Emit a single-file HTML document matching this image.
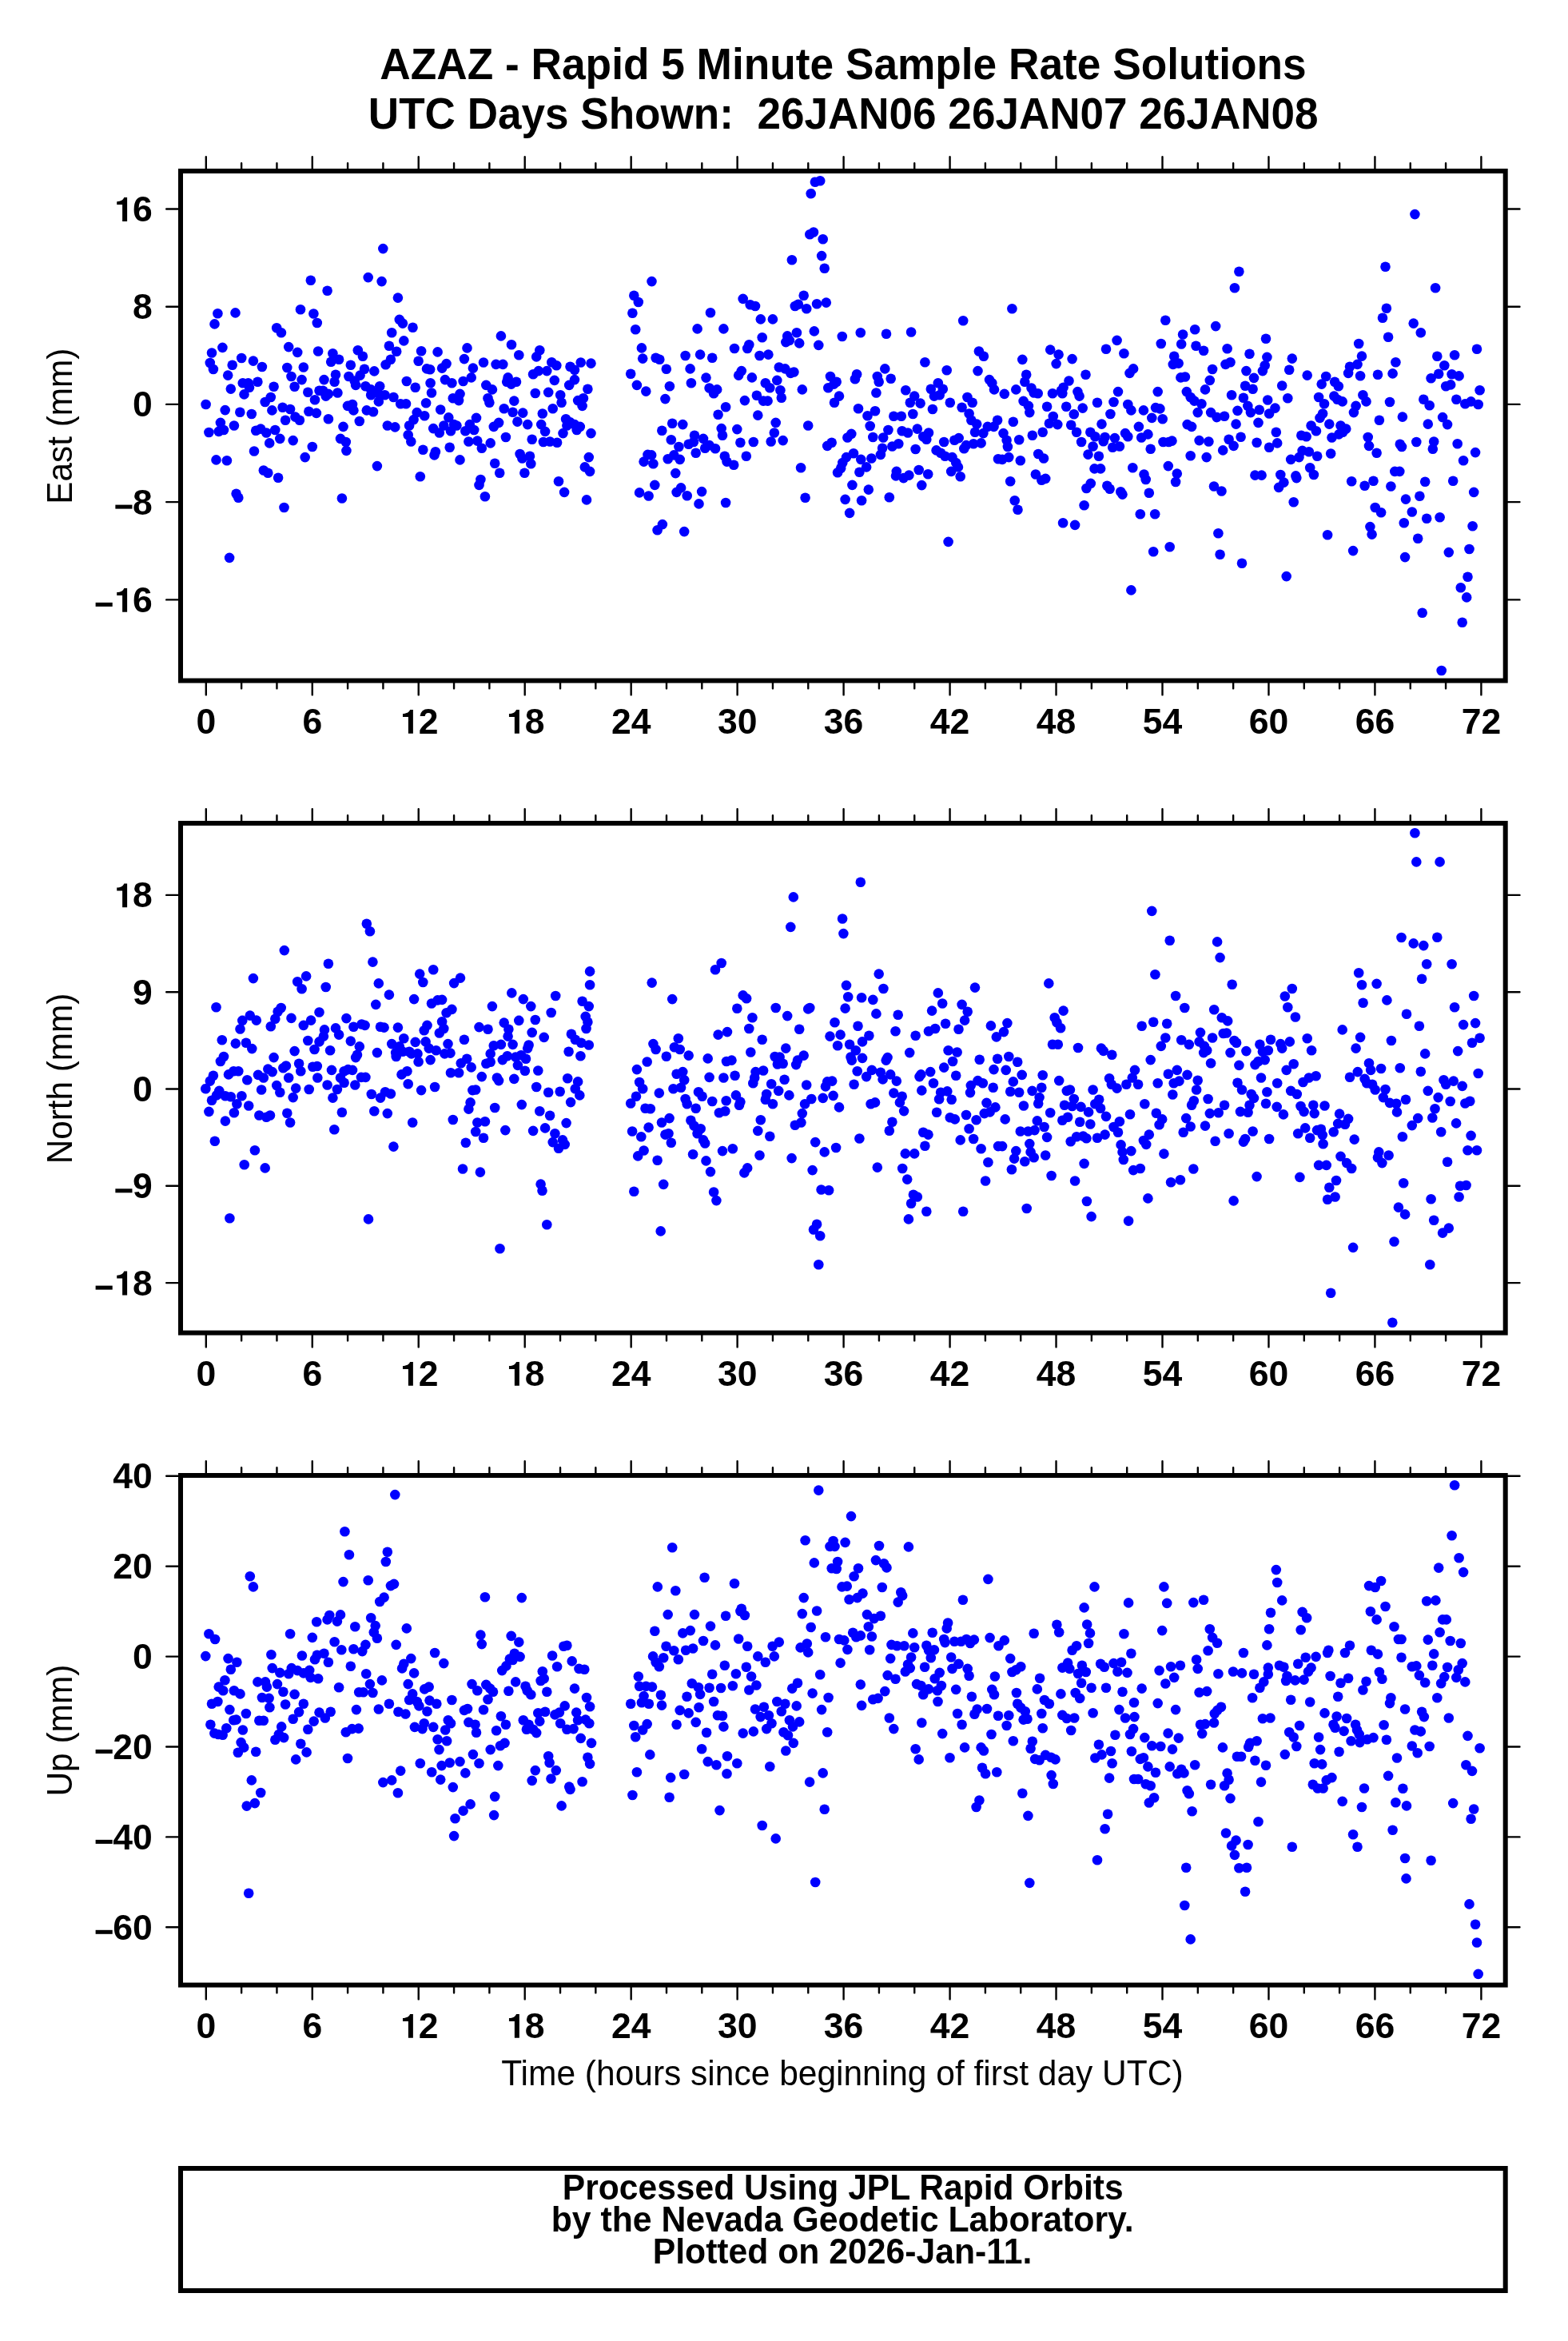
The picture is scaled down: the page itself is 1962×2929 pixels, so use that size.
<!DOCTYPE html><html><head><meta charset="utf-8"><title>AZAZ Rapid 5 Minute Solutions</title><style>html,body{margin:0;padding:0;background:#fff;width:1962px;height:2929px;overflow:hidden}svg{display:block;will-change:transform}text{font-family:"Liberation Sans",sans-serif}</style></head><body>
<svg width="1962" height="2929" viewBox="0 0 1962 2929">
<rect width="1962" height="2929" fill="#fff"/>
<text transform="translate(1055.00 98.80) scale(0.9456 1)" font-size="56.3" font-weight="bold" text-anchor="middle" xml:space="preserve">AZAZ - Rapid 5 Minute Sample Rate Solutions</text>
<text transform="translate(1055.20 160.80) scale(0.9429 1)" font-size="56.3" font-weight="bold" text-anchor="middle" xml:space="preserve">UTC Days Shown:  26JAN06 26JAN07 26JAN08</text>
<path d="M257.80 212.00V196.20M257.80 853.60V869.40M302.12 212.00V204.20M302.12 853.60V861.40M346.44 212.00V204.20M346.44 853.60V861.40M390.77 212.00V196.20M390.77 853.60V869.40M435.09 212.00V204.20M435.09 853.60V861.40M479.41 212.00V204.20M479.41 853.60V861.40M523.73 212.00V196.20M523.73 853.60V869.40M568.06 212.00V204.20M568.06 853.60V861.40M612.38 212.00V204.20M612.38 853.60V861.40M656.70 212.00V196.20M656.70 853.60V869.40M701.02 212.00V204.20M701.02 853.60V861.40M745.34 212.00V204.20M745.34 853.60V861.40M789.67 212.00V196.20M789.67 853.60V869.40M833.99 212.00V204.20M833.99 853.60V861.40M878.31 212.00V204.20M878.31 853.60V861.40M922.63 212.00V196.20M922.63 853.60V869.40M966.96 212.00V204.20M966.96 853.60V861.40M1011.28 212.00V204.20M1011.28 853.60V861.40M1055.60 212.00V196.20M1055.60 853.60V869.40M1099.92 212.00V204.20M1099.92 853.60V861.40M1144.24 212.00V204.20M1144.24 853.60V861.40M1188.57 212.00V196.20M1188.57 853.60V869.40M1232.89 212.00V204.20M1232.89 853.60V861.40M1277.21 212.00V204.20M1277.21 853.60V861.40M1321.53 212.00V196.20M1321.53 853.60V869.40M1365.86 212.00V204.20M1365.86 853.60V861.40M1410.18 212.00V204.20M1410.18 853.60V861.40M1454.50 212.00V196.20M1454.50 853.60V869.40M1498.82 212.00V204.20M1498.82 853.60V861.40M1543.14 212.00V204.20M1543.14 853.60V861.40M1587.47 212.00V196.20M1587.47 853.60V869.40M1631.79 212.00V204.20M1631.79 853.60V861.40M1676.11 212.00V204.20M1676.11 853.60V861.40M1720.43 212.00V196.20M1720.43 853.60V869.40M1764.76 212.00V204.20M1764.76 853.60V861.40M1809.08 212.00V204.20M1809.08 853.60V861.40M1853.40 212.00V196.20M1853.40 853.60V869.40M224.00 261.50H208.20M1885.70 261.50H1901.50M224.00 383.70H208.20M1885.70 383.70H1901.50M224.00 505.90H208.20M1885.70 505.90H1901.50M224.00 628.10H208.20M1885.70 628.10H1901.50M224.00 750.40H208.20M1885.70 750.40H1901.50" stroke="#000" stroke-width="2.4" fill="none" stroke-linecap="round"/>
<g font-size="44.5" font-weight="bold" fill="#000"><text x="245.43" y="917.80">0</text><text x="378.39" y="917.80">6</text><path transform="translate(498.98 917.80)" d="M11.9 0V-20.9H5.0V-24.7C9.8 -24.8 13.0 -26.8 14.1 -29.9H17.9V0Z"/><text x="523.73" y="917.80">2</text><path transform="translate(631.95 917.80)" d="M11.9 0V-20.9H5.0V-24.7C9.8 -24.8 13.0 -26.8 14.1 -29.9H17.9V0Z"/><text x="656.70" y="917.80">8</text><text x="764.92" y="917.80">2</text><text x="789.67" y="917.80">4</text><text x="897.88" y="917.80">3</text><text x="922.63" y="917.80">0</text><text x="1030.85" y="917.80">3</text><text x="1055.60" y="917.80">6</text><text x="1163.82" y="917.80">4</text><text x="1188.57" y="917.80">2</text><text x="1296.78" y="917.80">4</text><text x="1321.53" y="917.80">8</text><text x="1429.75" y="917.80">5</text><text x="1454.50" y="917.80">4</text><text x="1562.72" y="917.80">6</text><text x="1587.47" y="917.80">0</text><text x="1695.68" y="917.80">6</text><text x="1720.43" y="917.80">6</text><text x="1828.65" y="917.80">7</text><text x="1853.40" y="917.80">2</text><path transform="translate(141.21 276.90)" d="M11.9 0V-20.9H5.0V-24.7C9.8 -24.8 13.0 -26.8 14.1 -29.9H17.9V0Z"/><text x="165.96" y="276.90">6</text><text x="165.96" y="399.10">8</text><text x="165.96" y="521.30">0</text><text x="165.96" y="643.50">8</text><rect x="144.36" y="631.60" width="21.1" height="5.0"/><path transform="translate(141.21 765.80)" d="M11.9 0V-20.9H5.0V-24.7C9.8 -24.8 13.0 -26.8 14.1 -29.9H17.9V0Z"/><text x="165.96" y="765.80">6</text><rect x="119.61" y="753.90" width="21.1" height="5.0"/></g>
<text transform="translate(90.1 533.20) rotate(-90) scale(0.9435 1)" font-size="44.8" text-anchor="middle">East (mm)</text>
<g fill="#0000ff"><circle cx="388.8" cy="350.7" r="6.3"/><circle cx="376.0" cy="387.3" r="6.3"/><circle cx="392.4" cy="392.5" r="6.3"/><circle cx="396.8" cy="404.0" r="6.3"/><circle cx="272.4" cy="392.2" r="6.3"/><circle cx="294.5" cy="391.4" r="6.3"/><circle cx="268.5" cy="405.4" r="6.3"/><circle cx="346.2" cy="410.3" r="6.3"/><circle cx="351.9" cy="416.3" r="6.3"/><circle cx="278.4" cy="434.9" r="6.3"/><circle cx="361.2" cy="434.1" r="6.3"/><circle cx="372.2" cy="440.9" r="6.3"/><circle cx="265.0" cy="441.5" r="6.3"/><circle cx="398.1" cy="439.5" r="6.3"/><circle cx="262.8" cy="454.0" r="6.3"/><circle cx="266.9" cy="462.0" r="6.3"/><circle cx="302.2" cy="448.0" r="6.3"/><circle cx="316.9" cy="451.6" r="6.3"/><circle cx="327.9" cy="459.0" r="6.3"/><circle cx="290.7" cy="456.8" r="6.3"/><circle cx="359.3" cy="460.0" r="6.3"/><circle cx="379.8" cy="459.5" r="6.3"/><circle cx="285.2" cy="469.6" r="6.3"/><circle cx="364.5" cy="471.0" r="6.3"/><circle cx="377.6" cy="475.1" r="6.3"/><circle cx="303.8" cy="479.2" r="6.3"/><circle cx="310.6" cy="479.2" r="6.3"/><circle cx="322.4" cy="477.8" r="6.3"/><circle cx="312.0" cy="484.7" r="6.3"/><circle cx="288.8" cy="486.6" r="6.3"/><circle cx="305.5" cy="493.4" r="6.3"/><circle cx="342.6" cy="483.8" r="6.3"/><circle cx="368.6" cy="483.8" r="6.3"/><circle cx="385.3" cy="490.7" r="6.3"/><circle cx="399.5" cy="488.8" r="6.3"/><circle cx="338.8" cy="497.0" r="6.3"/><circle cx="331.7" cy="503.0" r="6.3"/><circle cx="394.0" cy="500.2" r="6.3"/><circle cx="257.6" cy="506.0" r="6.3"/><circle cx="281.7" cy="513.1" r="6.3"/><circle cx="300.3" cy="515.8" r="6.3"/><circle cx="314.8" cy="518.0" r="6.3"/><circle cx="340.4" cy="513.4" r="6.3"/><circle cx="353.6" cy="509.8" r="6.3"/><circle cx="363.1" cy="512.0" r="6.3"/><circle cx="386.4" cy="514.7" r="6.3"/><circle cx="395.9" cy="516.9" r="6.3"/><circle cx="369.4" cy="521.6" r="6.3"/><circle cx="374.9" cy="525.7" r="6.3"/><circle cx="357.1" cy="525.7" r="6.3"/><circle cx="275.9" cy="528.9" r="6.3"/><circle cx="292.9" cy="532.5" r="6.3"/><circle cx="280.0" cy="538.0" r="6.3"/><circle cx="273.7" cy="539.9" r="6.3"/><circle cx="261.4" cy="541.0" r="6.3"/><circle cx="320.2" cy="538.8" r="6.3"/><circle cx="326.2" cy="536.6" r="6.3"/><circle cx="333.3" cy="541.5" r="6.3"/><circle cx="344.3" cy="538.0" r="6.3"/><circle cx="350.3" cy="548.9" r="6.3"/><circle cx="366.7" cy="551.1" r="6.3"/><circle cx="337.2" cy="554.4" r="6.3"/><circle cx="390.8" cy="559.0" r="6.3"/><circle cx="318.0" cy="564.5" r="6.3"/><circle cx="381.7" cy="572.1" r="6.3"/><circle cx="270.5" cy="575.4" r="6.3"/><circle cx="283.9" cy="576.2" r="6.3"/><circle cx="329.8" cy="588.5" r="6.3"/><circle cx="335.3" cy="591.8" r="6.3"/><circle cx="348.1" cy="597.8" r="6.3"/><circle cx="295.6" cy="617.8" r="6.3"/><circle cx="298.3" cy="622.7" r="6.3"/><circle cx="355.5" cy="635.0" r="6.3"/><circle cx="287.1" cy="697.9" r="6.3"/><circle cx="479.3" cy="311.1" r="6.3"/><circle cx="460.7" cy="347.1" r="6.3"/><circle cx="477.6" cy="352.1" r="6.3"/><circle cx="409.6" cy="363.8" r="6.3"/><circle cx="497.9" cy="372.6" r="6.3"/><circle cx="499.8" cy="399.9" r="6.3"/><circle cx="503.9" cy="404.6" r="6.3"/><circle cx="516.5" cy="409.7" r="6.3"/><circle cx="490.2" cy="416.3" r="6.3"/><circle cx="505.3" cy="426.4" r="6.3"/><circle cx="486.9" cy="432.7" r="6.3"/><circle cx="496.2" cy="439.8" r="6.3"/><circle cx="447.8" cy="438.2" r="6.3"/><circle cx="453.9" cy="445.8" r="6.3"/><circle cx="527.1" cy="439.3" r="6.3"/><circle cx="547.6" cy="440.4" r="6.3"/><circle cx="416.4" cy="442.3" r="6.3"/><circle cx="424.1" cy="449.7" r="6.3"/><circle cx="414.2" cy="452.7" r="6.3"/><circle cx="488.9" cy="449.7" r="6.3"/><circle cx="482.6" cy="456.2" r="6.3"/><circle cx="523.6" cy="451.8" r="6.3"/><circle cx="438.8" cy="456.8" r="6.3"/><circle cx="456.0" cy="461.7" r="6.3"/><circle cx="450.6" cy="469.6" r="6.3"/><circle cx="468.3" cy="464.4" r="6.3"/><circle cx="534.0" cy="461.4" r="6.3"/><circle cx="538.1" cy="462.2" r="6.3"/><circle cx="558.6" cy="455.1" r="6.3"/><circle cx="553.1" cy="460.6" r="6.3"/><circle cx="405.5" cy="475.1" r="6.3"/><circle cx="420.0" cy="468.8" r="6.3"/><circle cx="418.6" cy="477.8" r="6.3"/><circle cx="436.4" cy="471.0" r="6.3"/><circle cx="443.7" cy="476.5" r="6.3"/><circle cx="445.1" cy="481.9" r="6.3"/><circle cx="508.8" cy="477.0" r="6.3"/><circle cx="519.7" cy="484.7" r="6.3"/><circle cx="538.6" cy="479.2" r="6.3"/><circle cx="556.9" cy="475.1" r="6.3"/><circle cx="565.4" cy="479.2" r="6.3"/><circle cx="404.1" cy="488.8" r="6.3"/><circle cx="410.9" cy="492.9" r="6.3"/><circle cx="407.7" cy="495.6" r="6.3"/><circle cx="422.4" cy="491.5" r="6.3"/><circle cx="457.4" cy="483.3" r="6.3"/><circle cx="464.2" cy="487.4" r="6.3"/><circle cx="464.2" cy="494.2" r="6.3"/><circle cx="475.2" cy="483.3" r="6.3"/><circle cx="472.4" cy="491.5" r="6.3"/><circle cx="481.5" cy="494.2" r="6.3"/><circle cx="492.4" cy="497.0" r="6.3"/><circle cx="473.8" cy="502.4" r="6.3"/><circle cx="501.2" cy="505.2" r="6.3"/><circle cx="508.0" cy="505.2" r="6.3"/><circle cx="540.0" cy="491.5" r="6.3"/><circle cx="566.8" cy="498.3" r="6.3"/><circle cx="533.1" cy="504.3" r="6.3"/><circle cx="435.0" cy="507.9" r="6.3"/><circle cx="441.0" cy="506.0" r="6.3"/><circle cx="442.4" cy="513.4" r="6.3"/><circle cx="458.8" cy="513.4" r="6.3"/><circle cx="467.0" cy="515.3" r="6.3"/><circle cx="551.2" cy="512.5" r="6.3"/><circle cx="521.7" cy="516.1" r="6.3"/><circle cx="531.2" cy="520.2" r="6.3"/><circle cx="517.6" cy="525.1" r="6.3"/><circle cx="561.3" cy="522.4" r="6.3"/><circle cx="410.9" cy="524.3" r="6.3"/><circle cx="449.8" cy="527.0" r="6.3"/><circle cx="429.5" cy="533.9" r="6.3"/><circle cx="484.8" cy="532.5" r="6.3"/><circle cx="494.3" cy="534.4" r="6.3"/><circle cx="512.1" cy="532.5" r="6.3"/><circle cx="542.2" cy="536.1" r="6.3"/><circle cx="549.8" cy="541.5" r="6.3"/><circle cx="555.3" cy="532.5" r="6.3"/><circle cx="564.0" cy="539.3" r="6.3"/><circle cx="568.1" cy="531.1" r="6.3"/><circle cx="426.0" cy="548.9" r="6.3"/><circle cx="432.8" cy="553.0" r="6.3"/><circle cx="510.7" cy="544.3" r="6.3"/><circle cx="514.3" cy="552.5" r="6.3"/><circle cx="433.4" cy="563.9" r="6.3"/><circle cx="529.3" cy="562.8" r="6.3"/><circle cx="544.9" cy="565.3" r="6.3"/><circle cx="543.5" cy="569.4" r="6.3"/><circle cx="562.7" cy="559.8" r="6.3"/><circle cx="471.9" cy="583.1" r="6.3"/><circle cx="525.8" cy="596.2" r="6.3"/><circle cx="427.9" cy="623.5" r="6.3"/><circle cx="626.9" cy="420.4" r="6.3"/><circle cx="640.0" cy="431.3" r="6.3"/><circle cx="649.3" cy="444.2" r="6.3"/><circle cx="584.5" cy="435.4" r="6.3"/><circle cx="580.9" cy="449.1" r="6.3"/><circle cx="591.9" cy="460.6" r="6.3"/><circle cx="605.0" cy="453.5" r="6.3"/><circle cx="620.6" cy="455.9" r="6.3"/><circle cx="629.3" cy="455.9" r="6.3"/><circle cx="675.3" cy="438.2" r="6.3"/><circle cx="671.2" cy="446.4" r="6.3"/><circle cx="690.3" cy="453.2" r="6.3"/><circle cx="696.3" cy="457.3" r="6.3"/><circle cx="713.5" cy="458.7" r="6.3"/><circle cx="719.0" cy="462.8" r="6.3"/><circle cx="726.7" cy="453.5" r="6.3"/><circle cx="739.5" cy="454.6" r="6.3"/><circle cx="579.6" cy="477.0" r="6.3"/><circle cx="589.7" cy="472.4" r="6.3"/><circle cx="608.3" cy="481.9" r="6.3"/><circle cx="615.9" cy="487.4" r="6.3"/><circle cx="635.6" cy="472.4" r="6.3"/><circle cx="634.2" cy="477.8" r="6.3"/><circle cx="639.7" cy="480.6" r="6.3"/><circle cx="646.0" cy="477.8" r="6.3"/><circle cx="667.1" cy="468.3" r="6.3"/><circle cx="673.9" cy="464.1" r="6.3"/><circle cx="684.3" cy="464.1" r="6.3"/><circle cx="693.8" cy="475.9" r="6.3"/><circle cx="712.2" cy="481.9" r="6.3"/><circle cx="719.0" cy="475.1" r="6.3"/><circle cx="735.4" cy="486.8" r="6.3"/><circle cx="575.5" cy="492.9" r="6.3"/><circle cx="574.1" cy="501.1" r="6.3"/><circle cx="610.5" cy="498.3" r="6.3"/><circle cx="612.4" cy="503.8" r="6.3"/><circle cx="643.3" cy="501.6" r="6.3"/><circle cx="669.8" cy="492.0" r="6.3"/><circle cx="686.2" cy="490.9" r="6.3"/><circle cx="701.2" cy="494.2" r="6.3"/><circle cx="702.6" cy="503.8" r="6.3"/><circle cx="723.1" cy="501.1" r="6.3"/><circle cx="729.9" cy="498.3" r="6.3"/><circle cx="728.6" cy="507.9" r="6.3"/><circle cx="630.7" cy="511.2" r="6.3"/><circle cx="641.6" cy="515.8" r="6.3"/><circle cx="654.2" cy="516.6" r="6.3"/><circle cx="678.8" cy="517.5" r="6.3"/><circle cx="691.7" cy="511.2" r="6.3"/><circle cx="596.0" cy="522.9" r="6.3"/><circle cx="571.4" cy="532.5" r="6.3"/><circle cx="587.8" cy="531.1" r="6.3"/><circle cx="582.3" cy="539.3" r="6.3"/><circle cx="593.2" cy="538.0" r="6.3"/><circle cx="617.8" cy="533.9" r="6.3"/><circle cx="624.1" cy="528.9" r="6.3"/><circle cx="647.4" cy="527.6" r="6.3"/><circle cx="660.2" cy="531.1" r="6.3"/><circle cx="677.2" cy="531.1" r="6.3"/><circle cx="682.1" cy="539.9" r="6.3"/><circle cx="708.1" cy="524.3" r="6.3"/><circle cx="713.5" cy="528.4" r="6.3"/><circle cx="709.4" cy="532.5" r="6.3"/><circle cx="719.0" cy="531.1" r="6.3"/><circle cx="721.7" cy="538.0" r="6.3"/><circle cx="725.8" cy="533.9" r="6.3"/><circle cx="704.5" cy="542.1" r="6.3"/><circle cx="739.5" cy="542.1" r="6.3"/><circle cx="632.9" cy="547.0" r="6.3"/><circle cx="586.4" cy="552.5" r="6.3"/><circle cx="597.3" cy="551.6" r="6.3"/><circle cx="602.8" cy="560.7" r="6.3"/><circle cx="613.7" cy="554.4" r="6.3"/><circle cx="665.7" cy="549.7" r="6.3"/><circle cx="679.9" cy="553.0" r="6.3"/><circle cx="688.1" cy="552.5" r="6.3"/><circle cx="697.1" cy="553.8" r="6.3"/><circle cx="575.5" cy="575.4" r="6.3"/><circle cx="650.6" cy="568.0" r="6.3"/><circle cx="653.4" cy="573.5" r="6.3"/><circle cx="663.0" cy="570.8" r="6.3"/><circle cx="664.3" cy="580.3" r="6.3"/><circle cx="619.2" cy="579.8" r="6.3"/><circle cx="625.2" cy="591.8" r="6.3"/><circle cx="656.4" cy="591.8" r="6.3"/><circle cx="736.8" cy="572.1" r="6.3"/><circle cx="731.8" cy="584.4" r="6.3"/><circle cx="738.1" cy="589.9" r="6.3"/><circle cx="601.4" cy="600.0" r="6.3"/><circle cx="599.5" cy="606.9" r="6.3"/><circle cx="606.9" cy="621.3" r="6.3"/><circle cx="699.0" cy="602.2" r="6.3"/><circle cx="706.1" cy="615.9" r="6.3"/><circle cx="734.0" cy="625.4" r="6.3"/><circle cx="815.5" cy="352.1" r="6.3"/><circle cx="793.3" cy="369.8" r="6.3"/><circle cx="798.8" cy="378.0" r="6.3"/><circle cx="791.4" cy="391.7" r="6.3"/><circle cx="795.2" cy="412.2" r="6.3"/><circle cx="889.0" cy="391.2" r="6.3"/><circle cx="872.6" cy="411.4" r="6.3"/><circle cx="905.4" cy="411.4" r="6.3"/><circle cx="802.9" cy="435.4" r="6.3"/><circle cx="804.2" cy="448.6" r="6.3"/><circle cx="820.6" cy="447.7" r="6.3"/><circle cx="825.3" cy="449.7" r="6.3"/><circle cx="833.8" cy="461.7" r="6.3"/><circle cx="857.6" cy="445.0" r="6.3"/><circle cx="876.1" cy="443.6" r="6.3"/><circle cx="891.2" cy="447.7" r="6.3"/><circle cx="863.6" cy="461.4" r="6.3"/><circle cx="789.2" cy="467.7" r="6.3"/><circle cx="796.9" cy="481.9" r="6.3"/><circle cx="808.3" cy="489.6" r="6.3"/><circle cx="837.9" cy="483.3" r="6.3"/><circle cx="832.4" cy="499.1" r="6.3"/><circle cx="864.9" cy="479.2" r="6.3"/><circle cx="883.5" cy="472.6" r="6.3"/><circle cx="887.6" cy="485.5" r="6.3"/><circle cx="897.2" cy="487.4" r="6.3"/><circle cx="893.1" cy="492.3" r="6.3"/><circle cx="908.1" cy="509.3" r="6.3"/><circle cx="898.6" cy="518.8" r="6.3"/><circle cx="841.2" cy="529.8" r="6.3"/><circle cx="854.3" cy="531.1" r="6.3"/><circle cx="828.3" cy="538.8" r="6.3"/><circle cx="902.7" cy="536.1" r="6.3"/><circle cx="904.0" cy="544.8" r="6.3"/><circle cx="839.8" cy="550.3" r="6.3"/><circle cx="849.4" cy="559.0" r="6.3"/><circle cx="869.0" cy="544.8" r="6.3"/><circle cx="861.7" cy="555.7" r="6.3"/><circle cx="867.9" cy="553.0" r="6.3"/><circle cx="880.0" cy="548.9" r="6.3"/><circle cx="882.2" cy="560.7" r="6.3"/><circle cx="887.6" cy="557.1" r="6.3"/><circle cx="895.0" cy="561.2" r="6.3"/><circle cx="870.7" cy="566.7" r="6.3"/><circle cx="810.5" cy="568.9" r="6.3"/><circle cx="815.2" cy="569.4" r="6.3"/><circle cx="805.6" cy="577.6" r="6.3"/><circle cx="817.4" cy="580.3" r="6.3"/><circle cx="835.7" cy="574.3" r="6.3"/><circle cx="843.3" cy="569.4" r="6.3"/><circle cx="850.7" cy="574.9" r="6.3"/><circle cx="906.8" cy="570.8" r="6.3"/><circle cx="909.5" cy="577.6" r="6.3"/><circle cx="845.3" cy="592.1" r="6.3"/><circle cx="819.3" cy="606.9" r="6.3"/><circle cx="800.1" cy="616.4" r="6.3"/><circle cx="811.6" cy="620.5" r="6.3"/><circle cx="852.1" cy="610.4" r="6.3"/><circle cx="846.6" cy="615.9" r="6.3"/><circle cx="859.7" cy="620.3" r="6.3"/><circle cx="878.1" cy="615.1" r="6.3"/><circle cx="874.5" cy="630.4" r="6.3"/><circle cx="908.1" cy="629.0" r="6.3"/><circle cx="828.9" cy="656.1" r="6.3"/><circle cx="822.6" cy="663.2" r="6.3"/><circle cx="856.2" cy="665.1" r="6.3"/><circle cx="1026.2" cy="226.3" r="6.3"/><circle cx="1019.9" cy="227.7" r="6.3"/><circle cx="1014.7" cy="242.2" r="6.3"/><circle cx="1013.3" cy="293.3" r="6.3"/><circle cx="1018.0" cy="290.5" r="6.3"/><circle cx="1029.7" cy="299.3" r="6.3"/><circle cx="1028.1" cy="320.1" r="6.3"/><circle cx="1031.7" cy="335.7" r="6.3"/><circle cx="990.9" cy="325.3" r="6.3"/><circle cx="929.7" cy="373.9" r="6.3"/><circle cx="938.7" cy="381.3" r="6.3"/><circle cx="945.0" cy="383.0" r="6.3"/><circle cx="951.8" cy="399.4" r="6.3"/><circle cx="966.9" cy="399.4" r="6.3"/><circle cx="1005.7" cy="369.8" r="6.3"/><circle cx="994.8" cy="383.0" r="6.3"/><circle cx="998.9" cy="380.8" r="6.3"/><circle cx="1009.2" cy="386.2" r="6.3"/><circle cx="1022.1" cy="380.2" r="6.3"/><circle cx="1033.8" cy="378.6" r="6.3"/><circle cx="953.7" cy="422.3" r="6.3"/><circle cx="985.2" cy="420.4" r="6.3"/><circle cx="983.3" cy="428.1" r="6.3"/><circle cx="987.9" cy="425.9" r="6.3"/><circle cx="996.9" cy="416.3" r="6.3"/><circle cx="1000.2" cy="429.4" r="6.3"/><circle cx="1018.8" cy="414.4" r="6.3"/><circle cx="1024.3" cy="431.9" r="6.3"/><circle cx="1053.8" cy="421.0" r="6.3"/><circle cx="1076.8" cy="416.3" r="6.3"/><circle cx="919.0" cy="436.0" r="6.3"/><circle cx="937.3" cy="431.3" r="6.3"/><circle cx="935.2" cy="436.0" r="6.3"/><circle cx="950.5" cy="445.0" r="6.3"/><circle cx="961.4" cy="443.6" r="6.3"/><circle cx="974.8" cy="459.5" r="6.3"/><circle cx="982.4" cy="461.4" r="6.3"/><circle cx="989.3" cy="466.9" r="6.3"/><circle cx="993.4" cy="465.5" r="6.3"/><circle cx="927.8" cy="464.1" r="6.3"/><circle cx="924.2" cy="469.6" r="6.3"/><circle cx="940.9" cy="472.4" r="6.3"/><circle cx="957.8" cy="479.2" r="6.3"/><circle cx="963.3" cy="485.2" r="6.3"/><circle cx="972.3" cy="475.9" r="6.3"/><circle cx="976.4" cy="488.2" r="6.3"/><circle cx="977.8" cy="497.8" r="6.3"/><circle cx="1003.8" cy="487.4" r="6.3"/><circle cx="1039.0" cy="471.0" r="6.3"/><circle cx="1046.7" cy="477.8" r="6.3"/><circle cx="1036.3" cy="485.2" r="6.3"/><circle cx="1043.4" cy="480.6" r="6.3"/><circle cx="1072.1" cy="468.3" r="6.3"/><circle cx="1069.9" cy="474.3" r="6.3"/><circle cx="1050.0" cy="495.6" r="6.3"/><circle cx="1044.0" cy="503.8" r="6.3"/><circle cx="1074.0" cy="511.2" r="6.3"/><circle cx="931.9" cy="501.1" r="6.3"/><circle cx="946.9" cy="494.8" r="6.3"/><circle cx="955.1" cy="501.6" r="6.3"/><circle cx="960.6" cy="501.6" r="6.3"/><circle cx="948.3" cy="519.6" r="6.3"/><circle cx="970.7" cy="528.9" r="6.3"/><circle cx="1011.2" cy="532.5" r="6.3"/><circle cx="922.3" cy="537.1" r="6.3"/><circle cx="968.8" cy="541.5" r="6.3"/><circle cx="926.4" cy="553.8" r="6.3"/><circle cx="942.8" cy="553.0" r="6.3"/><circle cx="964.7" cy="552.5" r="6.3"/><circle cx="979.7" cy="551.1" r="6.3"/><circle cx="1065.3" cy="542.9" r="6.3"/><circle cx="1060.4" cy="547.5" r="6.3"/><circle cx="1040.7" cy="553.8" r="6.3"/><circle cx="1035.2" cy="557.9" r="6.3"/><circle cx="918.2" cy="581.7" r="6.3"/><circle cx="933.8" cy="570.8" r="6.3"/><circle cx="1002.1" cy="585.3" r="6.3"/><circle cx="1068.0" cy="567.2" r="6.3"/><circle cx="1059.0" cy="572.1" r="6.3"/><circle cx="1054.3" cy="579.0" r="6.3"/><circle cx="1052.2" cy="585.8" r="6.3"/><circle cx="1048.1" cy="591.3" r="6.3"/><circle cx="1077.3" cy="574.9" r="6.3"/><circle cx="1075.4" cy="590.7" r="6.3"/><circle cx="1066.4" cy="606.9" r="6.3"/><circle cx="1007.6" cy="622.7" r="6.3"/><circle cx="1057.6" cy="624.9" r="6.3"/><circle cx="1078.1" cy="626.3" r="6.3"/><circle cx="1063.1" cy="641.9" r="6.3"/><circle cx="1205.2" cy="401.3" r="6.3"/><circle cx="1109.0" cy="417.7" r="6.3"/><circle cx="1140.1" cy="415.5" r="6.3"/><circle cx="1157.4" cy="453.2" r="6.3"/><circle cx="1184.7" cy="463.3" r="6.3"/><circle cx="1224.9" cy="439.5" r="6.3"/><circle cx="1230.9" cy="445.8" r="6.3"/><circle cx="1223.5" cy="464.1" r="6.3"/><circle cx="1107.3" cy="461.4" r="6.3"/><circle cx="1097.8" cy="471.0" r="6.3"/><circle cx="1099.7" cy="477.8" r="6.3"/><circle cx="1114.7" cy="473.7" r="6.3"/><circle cx="1238.0" cy="475.1" r="6.3"/><circle cx="1241.3" cy="479.2" r="6.3"/><circle cx="1244.0" cy="487.4" r="6.3"/><circle cx="1096.4" cy="491.5" r="6.3"/><circle cx="1133.3" cy="488.2" r="6.3"/><circle cx="1173.8" cy="479.2" r="6.3"/><circle cx="1164.8" cy="486.8" r="6.3"/><circle cx="1179.8" cy="486.8" r="6.3"/><circle cx="1168.9" cy="495.6" r="6.3"/><circle cx="1175.7" cy="494.2" r="6.3"/><circle cx="1144.2" cy="495.6" r="6.3"/><circle cx="1138.8" cy="503.8" r="6.3"/><circle cx="1151.6" cy="504.6" r="6.3"/><circle cx="1188.8" cy="503.8" r="6.3"/><circle cx="1203.6" cy="509.8" r="6.3"/><circle cx="1210.4" cy="497.0" r="6.3"/><circle cx="1216.7" cy="503.8" r="6.3"/><circle cx="1166.9" cy="512.0" r="6.3"/><circle cx="1095.0" cy="514.2" r="6.3"/><circle cx="1085.5" cy="520.2" r="6.3"/><circle cx="1118.3" cy="520.7" r="6.3"/><circle cx="1127.8" cy="520.7" r="6.3"/><circle cx="1142.3" cy="518.0" r="6.3"/><circle cx="1212.6" cy="517.5" r="6.3"/><circle cx="1215.3" cy="525.7" r="6.3"/><circle cx="1222.2" cy="530.6" r="6.3"/><circle cx="1248.1" cy="525.7" r="6.3"/><circle cx="1243.5" cy="533.9" r="6.3"/><circle cx="1235.8" cy="533.9" r="6.3"/><circle cx="1230.4" cy="542.1" r="6.3"/><circle cx="1088.7" cy="533.0" r="6.3"/><circle cx="1111.4" cy="538.0" r="6.3"/><circle cx="1128.7" cy="539.3" r="6.3"/><circle cx="1136.0" cy="541.5" r="6.3"/><circle cx="1147.8" cy="536.6" r="6.3"/><circle cx="1162.0" cy="541.5" r="6.3"/><circle cx="1155.2" cy="546.2" r="6.3"/><circle cx="1159.3" cy="549.7" r="6.3"/><circle cx="1220.0" cy="540.7" r="6.3"/><circle cx="1092.3" cy="547.0" r="6.3"/><circle cx="1105.2" cy="547.5" r="6.3"/><circle cx="1181.2" cy="553.0" r="6.3"/><circle cx="1194.3" cy="550.8" r="6.3"/><circle cx="1199.7" cy="548.1" r="6.3"/><circle cx="1209.0" cy="557.1" r="6.3"/><circle cx="1206.3" cy="561.2" r="6.3"/><circle cx="1218.1" cy="555.2" r="6.3"/><circle cx="1227.6" cy="554.4" r="6.3"/><circle cx="1104.1" cy="560.7" r="6.3"/><circle cx="1101.9" cy="568.9" r="6.3"/><circle cx="1116.4" cy="558.5" r="6.3"/><circle cx="1124.3" cy="555.2" r="6.3"/><circle cx="1145.6" cy="562.0" r="6.3"/><circle cx="1171.6" cy="563.4" r="6.3"/><circle cx="1177.1" cy="566.7" r="6.3"/><circle cx="1182.5" cy="570.8" r="6.3"/><circle cx="1191.5" cy="572.1" r="6.3"/><circle cx="1196.2" cy="579.0" r="6.3"/><circle cx="1198.9" cy="584.4" r="6.3"/><circle cx="1190.2" cy="589.9" r="6.3"/><circle cx="1201.7" cy="596.2" r="6.3"/><circle cx="1090.4" cy="573.5" r="6.3"/><circle cx="1084.1" cy="584.4" r="6.3"/><circle cx="1121.8" cy="589.9" r="6.3"/><circle cx="1121.0" cy="595.4" r="6.3"/><circle cx="1130.6" cy="598.1" r="6.3"/><circle cx="1137.4" cy="594.6" r="6.3"/><circle cx="1149.7" cy="588.0" r="6.3"/><circle cx="1161.2" cy="593.2" r="6.3"/><circle cx="1153.3" cy="607.1" r="6.3"/><circle cx="1086.8" cy="612.6" r="6.3"/><circle cx="1112.8" cy="622.2" r="6.3"/><circle cx="1249.0" cy="574.3" r="6.3"/><circle cx="1186.6" cy="677.9" r="6.3"/><circle cx="1266.4" cy="386.2" r="6.3"/><circle cx="1397.6" cy="425.9" r="6.3"/><circle cx="1384.0" cy="436.8" r="6.3"/><circle cx="1406.4" cy="442.3" r="6.3"/><circle cx="1314.2" cy="437.6" r="6.3"/><circle cx="1324.6" cy="443.6" r="6.3"/><circle cx="1321.6" cy="455.1" r="6.3"/><circle cx="1341.6" cy="449.1" r="6.3"/><circle cx="1279.3" cy="449.9" r="6.3"/><circle cx="1358.5" cy="468.8" r="6.3"/><circle cx="1413.5" cy="466.9" r="6.3"/><circle cx="1418.1" cy="461.4" r="6.3"/><circle cx="1284.2" cy="468.8" r="6.3"/><circle cx="1282.3" cy="477.8" r="6.3"/><circle cx="1290.5" cy="485.5" r="6.3"/><circle cx="1293.7" cy="491.5" r="6.3"/><circle cx="1298.7" cy="492.3" r="6.3"/><circle cx="1271.3" cy="487.4" r="6.3"/><circle cx="1256.8" cy="492.9" r="6.3"/><circle cx="1317.0" cy="492.3" r="6.3"/><circle cx="1327.9" cy="488.8" r="6.3"/><circle cx="1330.6" cy="484.7" r="6.3"/><circle cx="1337.5" cy="476.5" r="6.3"/><circle cx="1329.3" cy="492.3" r="6.3"/><circle cx="1348.4" cy="490.1" r="6.3"/><circle cx="1350.6" cy="495.6" r="6.3"/><circle cx="1399.0" cy="490.1" r="6.3"/><circle cx="1280.6" cy="501.9" r="6.3"/><circle cx="1286.9" cy="507.9" r="6.3"/><circle cx="1288.3" cy="516.1" r="6.3"/><circle cx="1310.1" cy="508.7" r="6.3"/><circle cx="1334.2" cy="508.7" r="6.3"/><circle cx="1354.7" cy="510.6" r="6.3"/><circle cx="1343.8" cy="518.3" r="6.3"/><circle cx="1373.0" cy="503.8" r="6.3"/><circle cx="1393.5" cy="503.0" r="6.3"/><circle cx="1389.4" cy="518.0" r="6.3"/><circle cx="1411.3" cy="506.0" r="6.3"/><circle cx="1415.4" cy="513.4" r="6.3"/><circle cx="1267.8" cy="527.8" r="6.3"/><circle cx="1317.8" cy="521.0" r="6.3"/><circle cx="1312.9" cy="529.8" r="6.3"/><circle cx="1323.3" cy="531.1" r="6.3"/><circle cx="1340.2" cy="531.7" r="6.3"/><circle cx="1347.1" cy="540.7" r="6.3"/><circle cx="1378.5" cy="530.6" r="6.3"/><circle cx="1255.5" cy="542.1" r="6.3"/><circle cx="1259.6" cy="550.8" r="6.3"/><circle cx="1260.9" cy="559.0" r="6.3"/><circle cx="1275.2" cy="550.3" r="6.3"/><circle cx="1291.8" cy="544.8" r="6.3"/><circle cx="1304.7" cy="540.7" r="6.3"/><circle cx="1353.1" cy="553.0" r="6.3"/><circle cx="1364.3" cy="540.7" r="6.3"/><circle cx="1370.3" cy="546.2" r="6.3"/><circle cx="1382.6" cy="547.0" r="6.3"/><circle cx="1380.7" cy="552.2" r="6.3"/><circle cx="1394.9" cy="548.1" r="6.3"/><circle cx="1392.2" cy="559.8" r="6.3"/><circle cx="1400.9" cy="558.5" r="6.3"/><circle cx="1408.0" cy="542.1" r="6.3"/><circle cx="1411.3" cy="546.2" r="6.3"/><circle cx="1367.6" cy="558.5" r="6.3"/><circle cx="1361.5" cy="568.6" r="6.3"/><circle cx="1374.9" cy="570.8" r="6.3"/><circle cx="1262.3" cy="572.1" r="6.3"/><circle cx="1254.1" cy="574.9" r="6.3"/><circle cx="1276.8" cy="576.2" r="6.3"/><circle cx="1299.2" cy="568.0" r="6.3"/><circle cx="1306.0" cy="573.5" r="6.3"/><circle cx="1417.3" cy="585.3" r="6.3"/><circle cx="1369.5" cy="586.4" r="6.3"/><circle cx="1377.1" cy="586.4" r="6.3"/><circle cx="1295.9" cy="593.5" r="6.3"/><circle cx="1303.3" cy="600.8" r="6.3"/><circle cx="1308.2" cy="598.9" r="6.3"/><circle cx="1264.2" cy="602.2" r="6.3"/><circle cx="1364.8" cy="604.9" r="6.3"/><circle cx="1359.4" cy="611.0" r="6.3"/><circle cx="1385.3" cy="607.7" r="6.3"/><circle cx="1388.6" cy="611.8" r="6.3"/><circle cx="1402.3" cy="615.3" r="6.3"/><circle cx="1404.5" cy="618.6" r="6.3"/><circle cx="1269.7" cy="626.3" r="6.3"/><circle cx="1273.5" cy="637.8" r="6.3"/><circle cx="1356.6" cy="632.3" r="6.3"/><circle cx="1330.1" cy="654.2" r="6.3"/><circle cx="1345.1" cy="656.9" r="6.3"/><circle cx="1415.4" cy="738.4" r="6.3"/><circle cx="1550.4" cy="339.8" r="6.3"/><circle cx="1544.9" cy="360.3" r="6.3"/><circle cx="1458.3" cy="400.7" r="6.3"/><circle cx="1521.2" cy="408.1" r="6.3"/><circle cx="1495.2" cy="412.2" r="6.3"/><circle cx="1480.1" cy="418.5" r="6.3"/><circle cx="1478.2" cy="430.5" r="6.3"/><circle cx="1452.8" cy="430.0" r="6.3"/><circle cx="1496.5" cy="432.7" r="6.3"/><circle cx="1506.1" cy="438.7" r="6.3"/><circle cx="1535.6" cy="436.3" r="6.3"/><circle cx="1584.0" cy="423.7" r="6.3"/><circle cx="1563.5" cy="442.8" r="6.3"/><circle cx="1585.4" cy="446.9" r="6.3"/><circle cx="1469.2" cy="445.8" r="6.3"/><circle cx="1467.8" cy="455.9" r="6.3"/><circle cx="1474.7" cy="454.6" r="6.3"/><circle cx="1533.5" cy="455.9" r="6.3"/><circle cx="1539.5" cy="453.2" r="6.3"/><circle cx="1517.1" cy="462.0" r="6.3"/><circle cx="1559.4" cy="464.1" r="6.3"/><circle cx="1582.7" cy="457.3" r="6.3"/><circle cx="1579.9" cy="464.1" r="6.3"/><circle cx="1477.4" cy="472.4" r="6.3"/><circle cx="1482.9" cy="471.5" r="6.3"/><circle cx="1513.8" cy="475.9" r="6.3"/><circle cx="1569.0" cy="472.9" r="6.3"/><circle cx="1508.0" cy="487.4" r="6.3"/><circle cx="1448.7" cy="490.1" r="6.3"/><circle cx="1558.1" cy="482.7" r="6.3"/><circle cx="1567.6" cy="486.8" r="6.3"/><circle cx="1541.1" cy="494.2" r="6.3"/><circle cx="1484.8" cy="490.1" r="6.3"/><circle cx="1489.7" cy="497.0" r="6.3"/><circle cx="1494.4" cy="501.6" r="6.3"/><circle cx="1503.4" cy="505.2" r="6.3"/><circle cx="1498.7" cy="516.1" r="6.3"/><circle cx="1555.9" cy="497.8" r="6.3"/><circle cx="1561.3" cy="507.9" r="6.3"/><circle cx="1564.9" cy="516.1" r="6.3"/><circle cx="1575.8" cy="512.8" r="6.3"/><circle cx="1586.2" cy="500.5" r="6.3"/><circle cx="1588.1" cy="517.5" r="6.3"/><circle cx="1430.9" cy="513.4" r="6.3"/><circle cx="1446.0" cy="510.1" r="6.3"/><circle cx="1451.4" cy="511.4" r="6.3"/><circle cx="1441.3" cy="522.9" r="6.3"/><circle cx="1454.7" cy="524.3" r="6.3"/><circle cx="1515.1" cy="516.1" r="6.3"/><circle cx="1522.5" cy="522.1" r="6.3"/><circle cx="1532.1" cy="520.7" r="6.3"/><circle cx="1548.5" cy="513.9" r="6.3"/><circle cx="1546.6" cy="530.6" r="6.3"/><circle cx="1574.5" cy="528.9" r="6.3"/><circle cx="1485.6" cy="531.1" r="6.3"/><circle cx="1491.1" cy="533.9" r="6.3"/><circle cx="1424.9" cy="533.9" r="6.3"/><circle cx="1428.2" cy="547.5" r="6.3"/><circle cx="1436.4" cy="543.4" r="6.3"/><circle cx="1455.5" cy="553.0" r="6.3"/><circle cx="1462.4" cy="553.0" r="6.3"/><circle cx="1466.5" cy="551.6" r="6.3"/><circle cx="1439.7" cy="561.7" r="6.3"/><circle cx="1500.6" cy="551.1" r="6.3"/><circle cx="1512.4" cy="552.5" r="6.3"/><circle cx="1537.6" cy="549.7" r="6.3"/><circle cx="1543.6" cy="557.9" r="6.3"/><circle cx="1552.6" cy="546.7" r="6.3"/><circle cx="1530.2" cy="563.4" r="6.3"/><circle cx="1572.6" cy="553.8" r="6.3"/><circle cx="1588.1" cy="559.8" r="6.3"/><circle cx="1489.7" cy="570.2" r="6.3"/><circle cx="1509.7" cy="572.1" r="6.3"/><circle cx="1461.8" cy="583.1" r="6.3"/><circle cx="1472.8" cy="592.6" r="6.3"/><circle cx="1471.1" cy="603.0" r="6.3"/><circle cx="1431.5" cy="593.5" r="6.3"/><circle cx="1433.7" cy="600.0" r="6.3"/><circle cx="1570.4" cy="594.6" r="6.3"/><circle cx="1578.6" cy="594.6" r="6.3"/><circle cx="1437.8" cy="616.7" r="6.3"/><circle cx="1519.0" cy="608.5" r="6.3"/><circle cx="1528.5" cy="614.5" r="6.3"/><circle cx="1426.8" cy="643.2" r="6.3"/><circle cx="1445.2" cy="643.2" r="6.3"/><circle cx="1524.4" cy="667.3" r="6.3"/><circle cx="1443.2" cy="690.2" r="6.3"/><circle cx="1463.7" cy="684.2" r="6.3"/><circle cx="1526.6" cy="693.8" r="6.3"/><circle cx="1554.0" cy="704.7" r="6.3"/><circle cx="1733.5" cy="333.7" r="6.3"/><circle cx="1734.9" cy="385.7" r="6.3"/><circle cx="1730.0" cy="397.7" r="6.3"/><circle cx="1737.1" cy="421.8" r="6.3"/><circle cx="1700.2" cy="430.0" r="6.3"/><circle cx="1704.0" cy="445.6" r="6.3"/><circle cx="1698.5" cy="455.9" r="6.3"/><circle cx="1689.0" cy="458.7" r="6.3"/><circle cx="1687.1" cy="466.9" r="6.3"/><circle cx="1702.1" cy="470.2" r="6.3"/><circle cx="1724.0" cy="468.8" r="6.3"/><circle cx="1742.6" cy="467.4" r="6.3"/><circle cx="1746.4" cy="453.2" r="6.3"/><circle cx="1616.8" cy="448.6" r="6.3"/><circle cx="1613.2" cy="462.8" r="6.3"/><circle cx="1635.7" cy="469.6" r="6.3"/><circle cx="1659.2" cy="471.0" r="6.3"/><circle cx="1653.7" cy="480.6" r="6.3"/><circle cx="1670.1" cy="477.8" r="6.3"/><circle cx="1674.8" cy="483.3" r="6.3"/><circle cx="1604.2" cy="482.5" r="6.3"/><circle cx="1611.3" cy="498.3" r="6.3"/><circle cx="1650.1" cy="497.0" r="6.3"/><circle cx="1657.0" cy="505.2" r="6.3"/><circle cx="1669.3" cy="495.6" r="6.3"/><circle cx="1673.4" cy="499.7" r="6.3"/><circle cx="1679.7" cy="502.4" r="6.3"/><circle cx="1705.4" cy="494.2" r="6.3"/><circle cx="1709.5" cy="502.4" r="6.3"/><circle cx="1739.0" cy="503.0" r="6.3"/><circle cx="1696.6" cy="507.9" r="6.3"/><circle cx="1693.9" cy="516.1" r="6.3"/><circle cx="1595.5" cy="510.6" r="6.3"/><circle cx="1655.1" cy="517.5" r="6.3"/><circle cx="1651.5" cy="522.9" r="6.3"/><circle cx="1663.3" cy="530.6" r="6.3"/><circle cx="1640.6" cy="532.5" r="6.3"/><circle cx="1646.9" cy="539.3" r="6.3"/><circle cx="1677.5" cy="532.5" r="6.3"/><circle cx="1684.3" cy="536.6" r="6.3"/><circle cx="1680.2" cy="540.7" r="6.3"/><circle cx="1675.3" cy="543.4" r="6.3"/><circle cx="1666.5" cy="547.5" r="6.3"/><circle cx="1725.9" cy="525.7" r="6.3"/><circle cx="1754.9" cy="521.6" r="6.3"/><circle cx="1596.8" cy="540.7" r="6.3"/><circle cx="1628.3" cy="544.8" r="6.3"/><circle cx="1634.6" cy="546.2" r="6.3"/><circle cx="1711.7" cy="547.0" r="6.3"/><circle cx="1713.0" cy="557.9" r="6.3"/><circle cx="1751.8" cy="555.7" r="6.3"/><circle cx="1754.0" cy="559.0" r="6.3"/><circle cx="1598.2" cy="554.4" r="6.3"/><circle cx="1629.6" cy="563.9" r="6.3"/><circle cx="1637.8" cy="565.3" r="6.3"/><circle cx="1625.5" cy="572.1" r="6.3"/><circle cx="1615.2" cy="574.9" r="6.3"/><circle cx="1648.2" cy="570.8" r="6.3"/><circle cx="1665.2" cy="567.5" r="6.3"/><circle cx="1722.6" cy="566.7" r="6.3"/><circle cx="1639.2" cy="585.3" r="6.3"/><circle cx="1643.9" cy="594.0" r="6.3"/><circle cx="1602.3" cy="594.0" r="6.3"/><circle cx="1606.4" cy="603.6" r="6.3"/><circle cx="1600.1" cy="609.9" r="6.3"/><circle cx="1621.4" cy="595.4" r="6.3"/><circle cx="1622.3" cy="598.1" r="6.3"/><circle cx="1691.2" cy="602.2" r="6.3"/><circle cx="1707.6" cy="607.7" r="6.3"/><circle cx="1718.5" cy="601.7" r="6.3"/><circle cx="1740.4" cy="608.5" r="6.3"/><circle cx="1745.3" cy="589.9" r="6.3"/><circle cx="1751.3" cy="589.9" r="6.3"/><circle cx="1618.7" cy="628.2" r="6.3"/><circle cx="1720.7" cy="635.0" r="6.3"/><circle cx="1728.1" cy="641.3" r="6.3"/><circle cx="1759.0" cy="624.6" r="6.3"/><circle cx="1756.8" cy="654.2" r="6.3"/><circle cx="1714.4" cy="659.1" r="6.3"/><circle cx="1716.6" cy="668.6" r="6.3"/><circle cx="1661.1" cy="669.2" r="6.3"/><circle cx="1693.1" cy="689.1" r="6.3"/><circle cx="1758.1" cy="697.1" r="6.3"/><circle cx="1609.7" cy="721.1" r="6.3"/><circle cx="1770.4" cy="268.1" r="6.3"/><circle cx="1796.1" cy="360.3" r="6.3"/><circle cx="1768.7" cy="404.6" r="6.3"/><circle cx="1777.8" cy="416.3" r="6.3"/><circle cx="1848.0" cy="436.8" r="6.3"/><circle cx="1798.3" cy="445.8" r="6.3"/><circle cx="1820.1" cy="444.2" r="6.3"/><circle cx="1807.3" cy="457.3" r="6.3"/><circle cx="1800.2" cy="467.7" r="6.3"/><circle cx="1790.6" cy="473.2" r="6.3"/><circle cx="1816.6" cy="468.3" r="6.3"/><circle cx="1825.6" cy="470.4" r="6.3"/><circle cx="1809.2" cy="483.3" r="6.3"/><circle cx="1815.2" cy="481.4" r="6.3"/><circle cx="1851.6" cy="488.2" r="6.3"/><circle cx="1781.3" cy="499.7" r="6.3"/><circle cx="1788.7" cy="507.3" r="6.3"/><circle cx="1786.8" cy="530.6" r="6.3"/><circle cx="1805.1" cy="522.1" r="6.3"/><circle cx="1811.1" cy="531.1" r="6.3"/><circle cx="1822.3" cy="499.7" r="6.3"/><circle cx="1833.3" cy="505.2" r="6.3"/><circle cx="1840.6" cy="502.4" r="6.3"/><circle cx="1849.7" cy="506.0" r="6.3"/><circle cx="1772.3" cy="553.0" r="6.3"/><circle cx="1794.2" cy="552.5" r="6.3"/><circle cx="1792.8" cy="561.7" r="6.3"/><circle cx="1823.7" cy="555.2" r="6.3"/><circle cx="1831.1" cy="576.2" r="6.3"/><circle cx="1846.1" cy="566.1" r="6.3"/><circle cx="1783.2" cy="602.8" r="6.3"/><circle cx="1818.2" cy="601.7" r="6.3"/><circle cx="1844.2" cy="615.9" r="6.3"/><circle cx="1776.4" cy="620.8" r="6.3"/><circle cx="1766.8" cy="640.5" r="6.3"/><circle cx="1785.2" cy="648.7" r="6.3"/><circle cx="1801.6" cy="647.3" r="6.3"/><circle cx="1842.6" cy="658.3" r="6.3"/><circle cx="1774.2" cy="673.8" r="6.3"/><circle cx="1812.8" cy="691.1" r="6.3"/><circle cx="1838.5" cy="687.0" r="6.3"/><circle cx="1836.5" cy="721.7" r="6.3"/><circle cx="1827.8" cy="735.3" r="6.3"/><circle cx="1835.2" cy="747.4" r="6.3"/><circle cx="1779.7" cy="766.8" r="6.3"/><circle cx="1829.7" cy="778.8" r="6.3"/><circle cx="1803.7" cy="839.0" r="6.3"/></g>
<rect x="226.00" y="214.00" width="1657.70" height="637.60" fill="none" stroke="#000" stroke-width="6.0"/>
<path d="M257.80 1028.00V1012.20M257.80 1669.60V1685.40M302.12 1028.00V1020.20M302.12 1669.60V1677.40M346.44 1028.00V1020.20M346.44 1669.60V1677.40M390.77 1028.00V1012.20M390.77 1669.60V1685.40M435.09 1028.00V1020.20M435.09 1669.60V1677.40M479.41 1028.00V1020.20M479.41 1669.60V1677.40M523.73 1028.00V1012.20M523.73 1669.60V1685.40M568.06 1028.00V1020.20M568.06 1669.60V1677.40M612.38 1028.00V1020.20M612.38 1669.60V1677.40M656.70 1028.00V1012.20M656.70 1669.60V1685.40M701.02 1028.00V1020.20M701.02 1669.60V1677.40M745.34 1028.00V1020.20M745.34 1669.60V1677.40M789.67 1028.00V1012.20M789.67 1669.60V1685.40M833.99 1028.00V1020.20M833.99 1669.60V1677.40M878.31 1028.00V1020.20M878.31 1669.60V1677.40M922.63 1028.00V1012.20M922.63 1669.60V1685.40M966.96 1028.00V1020.20M966.96 1669.60V1677.40M1011.28 1028.00V1020.20M1011.28 1669.60V1677.40M1055.60 1028.00V1012.20M1055.60 1669.60V1685.40M1099.92 1028.00V1020.20M1099.92 1669.60V1677.40M1144.24 1028.00V1020.20M1144.24 1669.60V1677.40M1188.57 1028.00V1012.20M1188.57 1669.60V1685.40M1232.89 1028.00V1020.20M1232.89 1669.60V1677.40M1277.21 1028.00V1020.20M1277.21 1669.60V1677.40M1321.53 1028.00V1012.20M1321.53 1669.60V1685.40M1365.86 1028.00V1020.20M1365.86 1669.60V1677.40M1410.18 1028.00V1020.20M1410.18 1669.60V1677.40M1454.50 1028.00V1012.20M1454.50 1669.60V1685.40M1498.82 1028.00V1020.20M1498.82 1669.60V1677.40M1543.14 1028.00V1020.20M1543.14 1669.60V1677.40M1587.47 1028.00V1012.20M1587.47 1669.60V1685.40M1631.79 1028.00V1020.20M1631.79 1669.60V1677.40M1676.11 1028.00V1020.20M1676.11 1669.60V1677.40M1720.43 1028.00V1012.20M1720.43 1669.60V1685.40M1764.76 1028.00V1020.20M1764.76 1669.60V1677.40M1809.08 1028.00V1020.20M1809.08 1669.60V1677.40M1853.40 1028.00V1012.20M1853.40 1669.60V1685.40M224.00 1119.90H208.20M1885.70 1119.90H1901.50M224.00 1241.20H208.20M1885.70 1241.20H1901.50M224.00 1362.50H208.20M1885.70 1362.50H1901.50M224.00 1483.80H208.20M1885.70 1483.80H1901.50M224.00 1605.10H208.20M1885.70 1605.10H1901.50" stroke="#000" stroke-width="2.4" fill="none" stroke-linecap="round"/>
<g font-size="44.5" font-weight="bold" fill="#000"><text x="245.43" y="1733.80">0</text><text x="378.39" y="1733.80">6</text><path transform="translate(498.98 1733.80)" d="M11.9 0V-20.9H5.0V-24.7C9.8 -24.8 13.0 -26.8 14.1 -29.9H17.9V0Z"/><text x="523.73" y="1733.80">2</text><path transform="translate(631.95 1733.80)" d="M11.9 0V-20.9H5.0V-24.7C9.8 -24.8 13.0 -26.8 14.1 -29.9H17.9V0Z"/><text x="656.70" y="1733.80">8</text><text x="764.92" y="1733.80">2</text><text x="789.67" y="1733.80">4</text><text x="897.88" y="1733.80">3</text><text x="922.63" y="1733.80">0</text><text x="1030.85" y="1733.80">3</text><text x="1055.60" y="1733.80">6</text><text x="1163.82" y="1733.80">4</text><text x="1188.57" y="1733.80">2</text><text x="1296.78" y="1733.80">4</text><text x="1321.53" y="1733.80">8</text><text x="1429.75" y="1733.80">5</text><text x="1454.50" y="1733.80">4</text><text x="1562.72" y="1733.80">6</text><text x="1587.47" y="1733.80">0</text><text x="1695.68" y="1733.80">6</text><text x="1720.43" y="1733.80">6</text><text x="1828.65" y="1733.80">7</text><text x="1853.40" y="1733.80">2</text><path transform="translate(141.21 1135.30)" d="M11.9 0V-20.9H5.0V-24.7C9.8 -24.8 13.0 -26.8 14.1 -29.9H17.9V0Z"/><text x="165.96" y="1135.30">8</text><text x="165.96" y="1256.60">9</text><text x="165.96" y="1377.90">0</text><text x="165.96" y="1499.20">9</text><rect x="144.36" y="1487.30" width="21.1" height="5.0"/><path transform="translate(141.21 1620.50)" d="M11.9 0V-20.9H5.0V-24.7C9.8 -24.8 13.0 -26.8 14.1 -29.9H17.9V0Z"/><text x="165.96" y="1620.50">8</text><rect x="119.61" y="1608.60" width="21.1" height="5.0"/></g>
<text transform="translate(90.1 1349.50) rotate(-90) scale(0.9432 1)" font-size="44.8" text-anchor="middle">North (mm)</text>
<g fill="#0000ff"><circle cx="355.8" cy="1189.1" r="6.3"/><circle cx="316.9" cy="1224.1" r="6.3"/><circle cx="383.1" cy="1221.4" r="6.3"/><circle cx="372.2" cy="1228.2" r="6.3"/><circle cx="377.6" cy="1237.2" r="6.3"/><circle cx="270.5" cy="1260.2" r="6.3"/><circle cx="351.7" cy="1261.0" r="6.3"/><circle cx="347.6" cy="1265.7" r="6.3"/><circle cx="344.3" cy="1274.7" r="6.3"/><circle cx="338.8" cy="1284.3" r="6.3"/><circle cx="364.5" cy="1273.9" r="6.3"/><circle cx="312.8" cy="1270.6" r="6.3"/><circle cx="320.8" cy="1276.6" r="6.3"/><circle cx="303.3" cy="1276.9" r="6.3"/><circle cx="300.5" cy="1287.5" r="6.3"/><circle cx="379.8" cy="1282.9" r="6.3"/><circle cx="389.1" cy="1276.6" r="6.3"/><circle cx="399.5" cy="1266.5" r="6.3"/><circle cx="277.8" cy="1301.2" r="6.3"/><circle cx="294.8" cy="1305.6" r="6.3"/><circle cx="307.9" cy="1304.8" r="6.3"/><circle cx="315.3" cy="1312.1" r="6.3"/><circle cx="385.3" cy="1302.0" r="6.3"/><circle cx="393.5" cy="1313.0" r="6.3"/><circle cx="399.5" cy="1303.4" r="6.3"/><circle cx="368.6" cy="1315.1" r="6.3"/><circle cx="342.6" cy="1323.1" r="6.3"/><circle cx="280.0" cy="1322.0" r="6.3"/><circle cx="275.9" cy="1328.0" r="6.3"/><circle cx="266.9" cy="1345.8" r="6.3"/><circle cx="262.8" cy="1352.6" r="6.3"/><circle cx="257.3" cy="1362.2" r="6.3"/><circle cx="286.0" cy="1344.4" r="6.3"/><circle cx="292.3" cy="1340.3" r="6.3"/><circle cx="298.3" cy="1340.3" r="6.3"/><circle cx="309.3" cy="1351.2" r="6.3"/><circle cx="323.0" cy="1344.9" r="6.3"/><circle cx="329.8" cy="1348.5" r="6.3"/><circle cx="335.3" cy="1337.6" r="6.3"/><circle cx="340.7" cy="1341.1" r="6.3"/><circle cx="354.4" cy="1336.2" r="6.3"/><circle cx="357.9" cy="1333.5" r="6.3"/><circle cx="361.2" cy="1348.5" r="6.3"/><circle cx="374.1" cy="1330.7" r="6.3"/><circle cx="376.3" cy="1340.3" r="6.3"/><circle cx="391.3" cy="1334.8" r="6.3"/><circle cx="396.8" cy="1334.0" r="6.3"/><circle cx="397.3" cy="1348.5" r="6.3"/><circle cx="274.3" cy="1364.9" r="6.3"/><circle cx="271.0" cy="1370.4" r="6.3"/><circle cx="281.9" cy="1371.2" r="6.3"/><circle cx="288.8" cy="1372.3" r="6.3"/><circle cx="302.4" cy="1371.2" r="6.3"/><circle cx="296.4" cy="1381.3" r="6.3"/><circle cx="265.0" cy="1376.7" r="6.3"/><circle cx="261.4" cy="1390.9" r="6.3"/><circle cx="292.9" cy="1392.2" r="6.3"/><circle cx="311.2" cy="1383.5" r="6.3"/><circle cx="327.1" cy="1363.5" r="6.3"/><circle cx="346.2" cy="1358.1" r="6.3"/><circle cx="350.3" cy="1366.8" r="6.3"/><circle cx="370.2" cy="1361.6" r="6.3"/><circle cx="366.7" cy="1373.1" r="6.3"/><circle cx="386.7" cy="1363.0" r="6.3"/><circle cx="324.3" cy="1395.5" r="6.3"/><circle cx="333.3" cy="1397.7" r="6.3"/><circle cx="338.0" cy="1395.5" r="6.3"/><circle cx="359.3" cy="1392.8" r="6.3"/><circle cx="363.1" cy="1404.5" r="6.3"/><circle cx="281.9" cy="1402.6" r="6.3"/><circle cx="268.8" cy="1427.8" r="6.3"/><circle cx="318.9" cy="1439.3" r="6.3"/><circle cx="305.7" cy="1457.3" r="6.3"/><circle cx="331.7" cy="1461.4" r="6.3"/><circle cx="287.4" cy="1524.3" r="6.3"/><circle cx="458.8" cy="1155.8" r="6.3"/><circle cx="462.9" cy="1165.3" r="6.3"/><circle cx="410.9" cy="1205.8" r="6.3"/><circle cx="466.4" cy="1203.6" r="6.3"/><circle cx="407.7" cy="1235.0" r="6.3"/><circle cx="473.8" cy="1230.4" r="6.3"/><circle cx="486.9" cy="1244.6" r="6.3"/><circle cx="470.3" cy="1256.9" r="6.3"/><circle cx="525.2" cy="1218.6" r="6.3"/><circle cx="529.3" cy="1229.0" r="6.3"/><circle cx="542.2" cy="1213.2" r="6.3"/><circle cx="568.1" cy="1230.1" r="6.3"/><circle cx="518.1" cy="1250.1" r="6.3"/><circle cx="540.0" cy="1255.5" r="6.3"/><circle cx="547.6" cy="1251.4" r="6.3"/><circle cx="553.1" cy="1250.9" r="6.3"/><circle cx="558.6" cy="1267.3" r="6.3"/><circle cx="565.4" cy="1262.9" r="6.3"/><circle cx="406.0" cy="1288.4" r="6.3"/><circle cx="404.9" cy="1296.6" r="6.3"/><circle cx="433.4" cy="1274.1" r="6.3"/><circle cx="420.0" cy="1286.4" r="6.3"/><circle cx="424.1" cy="1294.6" r="6.3"/><circle cx="442.4" cy="1284.8" r="6.3"/><circle cx="452.5" cy="1281.5" r="6.3"/><circle cx="456.6" cy="1282.9" r="6.3"/><circle cx="476.0" cy="1284.8" r="6.3"/><circle cx="480.6" cy="1285.6" r="6.3"/><circle cx="497.9" cy="1285.6" r="6.3"/><circle cx="534.5" cy="1282.9" r="6.3"/><circle cx="530.7" cy="1289.2" r="6.3"/><circle cx="553.1" cy="1278.2" r="6.3"/><circle cx="555.3" cy="1287.0" r="6.3"/><circle cx="549.8" cy="1292.5" r="6.3"/><circle cx="438.8" cy="1302.6" r="6.3"/><circle cx="449.8" cy="1309.4" r="6.3"/><circle cx="413.1" cy="1314.3" r="6.3"/><circle cx="447.0" cy="1319.8" r="6.3"/><circle cx="445.1" cy="1323.1" r="6.3"/><circle cx="471.9" cy="1317.1" r="6.3"/><circle cx="490.2" cy="1306.1" r="6.3"/><circle cx="499.8" cy="1309.4" r="6.3"/><circle cx="505.3" cy="1299.3" r="6.3"/><circle cx="495.1" cy="1317.1" r="6.3"/><circle cx="495.7" cy="1322.0" r="6.3"/><circle cx="503.9" cy="1315.7" r="6.3"/><circle cx="512.1" cy="1315.7" r="6.3"/><circle cx="514.8" cy="1318.4" r="6.3"/><circle cx="522.5" cy="1318.4" r="6.3"/><circle cx="519.7" cy="1303.9" r="6.3"/><circle cx="532.6" cy="1303.4" r="6.3"/><circle cx="536.7" cy="1311.6" r="6.3"/><circle cx="545.7" cy="1314.3" r="6.3"/><circle cx="560.5" cy="1306.1" r="6.3"/><circle cx="556.4" cy="1318.4" r="6.3"/><circle cx="563.5" cy="1317.6" r="6.3"/><circle cx="523.6" cy="1328.5" r="6.3"/><circle cx="538.6" cy="1326.1" r="6.3"/><circle cx="415.0" cy="1338.9" r="6.3"/><circle cx="430.6" cy="1340.3" r="6.3"/><circle cx="435.5" cy="1338.1" r="6.3"/><circle cx="441.0" cy="1338.9" r="6.3"/><circle cx="426.0" cy="1348.5" r="6.3"/><circle cx="430.6" cy="1354.8" r="6.3"/><circle cx="451.9" cy="1347.9" r="6.3"/><circle cx="457.4" cy="1347.9" r="6.3"/><circle cx="444.3" cy="1357.5" r="6.3"/><circle cx="409.6" cy="1357.5" r="6.3"/><circle cx="421.9" cy="1363.0" r="6.3"/><circle cx="416.4" cy="1373.6" r="6.3"/><circle cx="502.5" cy="1344.4" r="6.3"/><circle cx="509.4" cy="1340.3" r="6.3"/><circle cx="510.7" cy="1356.2" r="6.3"/><circle cx="527.1" cy="1364.1" r="6.3"/><circle cx="544.1" cy="1360.0" r="6.3"/><circle cx="564.0" cy="1342.2" r="6.3"/><circle cx="464.8" cy="1369.0" r="6.3"/><circle cx="476.0" cy="1373.6" r="6.3"/><circle cx="482.0" cy="1366.3" r="6.3"/><circle cx="488.9" cy="1368.5" r="6.3"/><circle cx="468.3" cy="1390.3" r="6.3"/><circle cx="484.8" cy="1393.1" r="6.3"/><circle cx="427.9" cy="1391.7" r="6.3"/><circle cx="418.3" cy="1413.3" r="6.3"/><circle cx="516.2" cy="1404.5" r="6.3"/><circle cx="566.8" cy="1401.0" r="6.3"/><circle cx="492.4" cy="1434.6" r="6.3"/><circle cx="461.0" cy="1525.4" r="6.3"/><circle cx="576.0" cy="1223.6" r="6.3"/><circle cx="738.1" cy="1215.4" r="6.3"/><circle cx="738.1" cy="1232.3" r="6.3"/><circle cx="640.3" cy="1242.4" r="6.3"/><circle cx="654.8" cy="1250.1" r="6.3"/><circle cx="664.3" cy="1259.1" r="6.3"/><circle cx="615.9" cy="1259.1" r="6.3"/><circle cx="695.2" cy="1246.0" r="6.3"/><circle cx="689.7" cy="1267.0" r="6.3"/><circle cx="728.6" cy="1252.8" r="6.3"/><circle cx="736.8" cy="1259.1" r="6.3"/><circle cx="732.7" cy="1271.9" r="6.3"/><circle cx="735.4" cy="1278.8" r="6.3"/><circle cx="733.5" cy="1287.0" r="6.3"/><circle cx="714.9" cy="1293.8" r="6.3"/><circle cx="719.8" cy="1300.7" r="6.3"/><circle cx="727.2" cy="1304.8" r="6.3"/><circle cx="736.8" cy="1307.5" r="6.3"/><circle cx="630.7" cy="1279.6" r="6.3"/><circle cx="649.3" cy="1276.9" r="6.3"/><circle cx="669.8" cy="1276.0" r="6.3"/><circle cx="636.4" cy="1287.8" r="6.3"/><circle cx="635.6" cy="1296.6" r="6.3"/><circle cx="599.5" cy="1285.1" r="6.3"/><circle cx="610.5" cy="1287.8" r="6.3"/><circle cx="665.7" cy="1291.9" r="6.3"/><circle cx="680.7" cy="1297.9" r="6.3"/><circle cx="580.9" cy="1300.7" r="6.3"/><circle cx="617.8" cy="1308.3" r="6.3"/><circle cx="626.9" cy="1306.9" r="6.3"/><circle cx="641.6" cy="1306.9" r="6.3"/><circle cx="661.6" cy="1307.5" r="6.3"/><circle cx="660.2" cy="1311.6" r="6.3"/><circle cx="613.7" cy="1318.4" r="6.3"/><circle cx="634.8" cy="1321.2" r="6.3"/><circle cx="628.8" cy="1326.1" r="6.3"/><circle cx="645.2" cy="1322.5" r="6.3"/><circle cx="652.0" cy="1320.3" r="6.3"/><circle cx="658.0" cy="1324.7" r="6.3"/><circle cx="647.9" cy="1332.9" r="6.3"/><circle cx="711.6" cy="1315.7" r="6.3"/><circle cx="726.4" cy="1321.2" r="6.3"/><circle cx="584.2" cy="1324.7" r="6.3"/><circle cx="576.8" cy="1330.2" r="6.3"/><circle cx="589.7" cy="1335.4" r="6.3"/><circle cx="608.3" cy="1330.7" r="6.3"/><circle cx="613.7" cy="1328.8" r="6.3"/><circle cx="656.9" cy="1339.7" r="6.3"/><circle cx="673.3" cy="1339.5" r="6.3"/><circle cx="574.1" cy="1342.2" r="6.3"/><circle cx="602.8" cy="1347.1" r="6.3"/><circle cx="621.9" cy="1348.5" r="6.3"/><circle cx="624.1" cy="1352.1" r="6.3"/><circle cx="643.3" cy="1349.9" r="6.3"/><circle cx="710.2" cy="1349.3" r="6.3"/><circle cx="723.1" cy="1353.4" r="6.3"/><circle cx="719.8" cy="1362.2" r="6.3"/><circle cx="725.3" cy="1370.4" r="6.3"/><circle cx="591.3" cy="1364.1" r="6.3"/><circle cx="595.2" cy="1363.5" r="6.3"/><circle cx="671.2" cy="1360.0" r="6.3"/><circle cx="686.2" cy="1366.8" r="6.3"/><circle cx="700.7" cy="1365.7" r="6.3"/><circle cx="714.1" cy="1379.1" r="6.3"/><circle cx="588.6" cy="1379.4" r="6.3"/><circle cx="586.4" cy="1387.6" r="6.3"/><circle cx="619.2" cy="1386.0" r="6.3"/><circle cx="652.8" cy="1382.1" r="6.3"/><circle cx="675.3" cy="1390.3" r="6.3"/><circle cx="688.1" cy="1395.8" r="6.3"/><circle cx="708.6" cy="1405.1" r="6.3"/><circle cx="597.3" cy="1404.5" r="6.3"/><circle cx="606.9" cy="1403.2" r="6.3"/><circle cx="595.2" cy="1416.0" r="6.3"/><circle cx="605.0" cy="1423.7" r="6.3"/><circle cx="582.8" cy="1429.7" r="6.3"/><circle cx="632.3" cy="1414.1" r="6.3"/><circle cx="667.1" cy="1414.9" r="6.3"/><circle cx="682.1" cy="1411.4" r="6.3"/><circle cx="694.4" cy="1418.2" r="6.3"/><circle cx="691.7" cy="1429.1" r="6.3"/><circle cx="704.0" cy="1426.4" r="6.3"/><circle cx="706.7" cy="1431.9" r="6.3"/><circle cx="699.0" cy="1436.8" r="6.3"/><circle cx="579.0" cy="1462.5" r="6.3"/><circle cx="600.9" cy="1466.6" r="6.3"/><circle cx="676.6" cy="1481.6" r="6.3"/><circle cx="678.5" cy="1489.8" r="6.3"/><circle cx="684.3" cy="1532.2" r="6.3"/><circle cx="625.5" cy="1562.3" r="6.3"/><circle cx="902.7" cy="1205.0" r="6.3"/><circle cx="895.0" cy="1213.2" r="6.3"/><circle cx="815.7" cy="1229.6" r="6.3"/><circle cx="841.2" cy="1250.1" r="6.3"/><circle cx="898.6" cy="1294.6" r="6.3"/><circle cx="910.0" cy="1291.1" r="6.3"/><circle cx="848.8" cy="1299.3" r="6.3"/><circle cx="817.4" cy="1306.1" r="6.3"/><circle cx="820.6" cy="1313.0" r="6.3"/><circle cx="843.9" cy="1310.2" r="6.3"/><circle cx="850.7" cy="1313.0" r="6.3"/><circle cx="833.8" cy="1321.7" r="6.3"/><circle cx="861.7" cy="1320.6" r="6.3"/><circle cx="885.7" cy="1324.4" r="6.3"/><circle cx="909.0" cy="1328.0" r="6.3"/><circle cx="809.7" cy="1328.5" r="6.3"/><circle cx="796.9" cy="1338.1" r="6.3"/><circle cx="846.6" cy="1343.8" r="6.3"/><circle cx="854.3" cy="1341.1" r="6.3"/><circle cx="856.2" cy="1351.2" r="6.3"/><circle cx="887.6" cy="1347.9" r="6.3"/><circle cx="905.4" cy="1348.5" r="6.3"/><circle cx="800.1" cy="1354.0" r="6.3"/><circle cx="804.2" cy="1362.2" r="6.3"/><circle cx="842.5" cy="1362.2" r="6.3"/><circle cx="852.1" cy="1360.8" r="6.3"/><circle cx="824.8" cy="1367.6" r="6.3"/><circle cx="874.0" cy="1366.3" r="6.3"/><circle cx="878.6" cy="1371.7" r="6.3"/><circle cx="796.0" cy="1371.7" r="6.3"/><circle cx="789.2" cy="1380.5" r="6.3"/><circle cx="857.6" cy="1375.0" r="6.3"/><circle cx="859.7" cy="1381.3" r="6.3"/><circle cx="891.2" cy="1378.0" r="6.3"/><circle cx="908.7" cy="1377.2" r="6.3"/><circle cx="807.5" cy="1386.8" r="6.3"/><circle cx="813.8" cy="1387.3" r="6.3"/><circle cx="870.7" cy="1386.8" r="6.3"/><circle cx="899.9" cy="1392.2" r="6.3"/><circle cx="907.3" cy="1390.3" r="6.3"/><circle cx="837.6" cy="1399.1" r="6.3"/><circle cx="828.0" cy="1404.5" r="6.3"/><circle cx="864.4" cy="1401.8" r="6.3"/><circle cx="868.5" cy="1408.6" r="6.3"/><circle cx="876.7" cy="1412.2" r="6.3"/><circle cx="872.6" cy="1418.2" r="6.3"/><circle cx="811.6" cy="1410.6" r="6.3"/><circle cx="791.1" cy="1415.5" r="6.3"/><circle cx="802.3" cy="1422.3" r="6.3"/><circle cx="832.4" cy="1419.6" r="6.3"/><circle cx="836.5" cy="1418.2" r="6.3"/><circle cx="839.8" cy="1429.7" r="6.3"/><circle cx="880.0" cy="1426.4" r="6.3"/><circle cx="882.2" cy="1430.5" r="6.3"/><circle cx="904.0" cy="1440.1" r="6.3"/><circle cx="805.6" cy="1439.5" r="6.3"/><circle cx="798.2" cy="1446.4" r="6.3"/><circle cx="822.6" cy="1451.8" r="6.3"/><circle cx="867.1" cy="1444.2" r="6.3"/><circle cx="883.5" cy="1452.4" r="6.3"/><circle cx="889.0" cy="1466.1" r="6.3"/><circle cx="830.2" cy="1481.9" r="6.3"/><circle cx="793.3" cy="1490.7" r="6.3"/><circle cx="893.1" cy="1491.5" r="6.3"/><circle cx="896.4" cy="1502.1" r="6.3"/><circle cx="826.7" cy="1540.4" r="6.3"/><circle cx="1076.8" cy="1103.8" r="6.3"/><circle cx="992.8" cy="1122.4" r="6.3"/><circle cx="989.3" cy="1159.9" r="6.3"/><circle cx="1054.1" cy="1149.5" r="6.3"/><circle cx="1055.4" cy="1168.1" r="6.3"/><circle cx="1059.0" cy="1232.9" r="6.3"/><circle cx="1061.2" cy="1247.3" r="6.3"/><circle cx="1057.6" cy="1261.6" r="6.3"/><circle cx="1078.1" cy="1248.2" r="6.3"/><circle cx="929.7" cy="1245.4" r="6.3"/><circle cx="934.1" cy="1249.3" r="6.3"/><circle cx="922.3" cy="1261.8" r="6.3"/><circle cx="970.7" cy="1261.0" r="6.3"/><circle cx="985.2" cy="1271.1" r="6.3"/><circle cx="1011.2" cy="1262.4" r="6.3"/><circle cx="1013.3" cy="1261.0" r="6.3"/><circle cx="941.4" cy="1273.3" r="6.3"/><circle cx="937.3" cy="1287.0" r="6.3"/><circle cx="1000.2" cy="1287.8" r="6.3"/><circle cx="1044.5" cy="1279.3" r="6.3"/><circle cx="1073.5" cy="1283.7" r="6.3"/><circle cx="1038.5" cy="1296.6" r="6.3"/><circle cx="1051.6" cy="1294.6" r="6.3"/><circle cx="1048.1" cy="1308.3" r="6.3"/><circle cx="953.7" cy="1300.7" r="6.3"/><circle cx="1063.1" cy="1306.7" r="6.3"/><circle cx="1070.8" cy="1314.3" r="6.3"/><circle cx="1079.0" cy="1303.4" r="6.3"/><circle cx="1064.5" cy="1322.5" r="6.3"/><circle cx="1065.8" cy="1326.6" r="6.3"/><circle cx="1079.0" cy="1323.9" r="6.3"/><circle cx="939.3" cy="1316.5" r="6.3"/><circle cx="983.3" cy="1311.6" r="6.3"/><circle cx="969.6" cy="1322.0" r="6.3"/><circle cx="975.6" cy="1322.5" r="6.3"/><circle cx="972.9" cy="1331.5" r="6.3"/><circle cx="979.7" cy="1330.7" r="6.3"/><circle cx="1005.7" cy="1320.6" r="6.3"/><circle cx="998.0" cy="1326.6" r="6.3"/><circle cx="996.1" cy="1332.1" r="6.3"/><circle cx="915.5" cy="1326.6" r="6.3"/><circle cx="919.6" cy="1345.8" r="6.3"/><circle cx="945.5" cy="1341.1" r="6.3"/><circle cx="955.1" cy="1339.5" r="6.3"/><circle cx="944.2" cy="1348.5" r="6.3"/><circle cx="942.3" cy="1355.3" r="6.3"/><circle cx="1072.7" cy="1340.3" r="6.3"/><circle cx="1068.6" cy="1356.7" r="6.3"/><circle cx="981.6" cy="1350.7" r="6.3"/><circle cx="965.2" cy="1356.2" r="6.3"/><circle cx="974.2" cy="1364.9" r="6.3"/><circle cx="987.4" cy="1370.4" r="6.3"/><circle cx="1009.2" cy="1357.5" r="6.3"/><circle cx="1035.2" cy="1353.4" r="6.3"/><circle cx="1041.2" cy="1352.6" r="6.3"/><circle cx="1033.0" cy="1359.4" r="6.3"/><circle cx="920.9" cy="1370.4" r="6.3"/><circle cx="926.4" cy="1378.6" r="6.3"/><circle cx="925.0" cy="1382.7" r="6.3"/><circle cx="959.2" cy="1369.0" r="6.3"/><circle cx="957.8" cy="1375.8" r="6.3"/><circle cx="966.9" cy="1381.3" r="6.3"/><circle cx="1015.3" cy="1375.0" r="6.3"/><circle cx="1007.1" cy="1381.3" r="6.3"/><circle cx="1029.7" cy="1373.9" r="6.3"/><circle cx="1042.6" cy="1370.9" r="6.3"/><circle cx="1050.0" cy="1385.4" r="6.3"/><circle cx="1003.8" cy="1393.1" r="6.3"/><circle cx="994.8" cy="1407.8" r="6.3"/><circle cx="1002.4" cy="1404.5" r="6.3"/><circle cx="951.8" cy="1401.3" r="6.3"/><circle cx="948.3" cy="1414.9" r="6.3"/><circle cx="963.3" cy="1421.8" r="6.3"/><circle cx="1075.4" cy="1424.5" r="6.3"/><circle cx="1020.2" cy="1429.1" r="6.3"/><circle cx="1031.7" cy="1441.4" r="6.3"/><circle cx="1046.1" cy="1436.0" r="6.3"/><circle cx="916.8" cy="1437.3" r="6.3"/><circle cx="950.5" cy="1445.5" r="6.3"/><circle cx="990.6" cy="1449.1" r="6.3"/><circle cx="935.2" cy="1461.4" r="6.3"/><circle cx="931.3" cy="1467.4" r="6.3"/><circle cx="1016.6" cy="1464.1" r="6.3"/><circle cx="1027.6" cy="1488.5" r="6.3"/><circle cx="1037.1" cy="1489.3" r="6.3"/><circle cx="1022.1" cy="1531.7" r="6.3"/><circle cx="1018.0" cy="1538.5" r="6.3"/><circle cx="1026.2" cy="1546.2" r="6.3"/><circle cx="1024.3" cy="1582.2" r="6.3"/><circle cx="1099.7" cy="1218.6" r="6.3"/><circle cx="1105.4" cy="1237.0" r="6.3"/><circle cx="1092.3" cy="1250.9" r="6.3"/><circle cx="1096.4" cy="1268.4" r="6.3"/><circle cx="1123.7" cy="1269.8" r="6.3"/><circle cx="1120.5" cy="1290.3" r="6.3"/><circle cx="1145.6" cy="1295.7" r="6.3"/><circle cx="1173.8" cy="1242.4" r="6.3"/><circle cx="1179.2" cy="1255.5" r="6.3"/><circle cx="1166.1" cy="1264.6" r="6.3"/><circle cx="1162.0" cy="1290.3" r="6.3"/><circle cx="1170.2" cy="1287.0" r="6.3"/><circle cx="1183.1" cy="1280.7" r="6.3"/><circle cx="1203.6" cy="1256.9" r="6.3"/><circle cx="1210.7" cy="1265.7" r="6.3"/><circle cx="1207.1" cy="1276.6" r="6.3"/><circle cx="1199.5" cy="1287.8" r="6.3"/><circle cx="1220.0" cy="1235.6" r="6.3"/><circle cx="1239.9" cy="1283.4" r="6.3"/><circle cx="1246.8" cy="1297.4" r="6.3"/><circle cx="1087.4" cy="1295.7" r="6.3"/><circle cx="1138.2" cy="1317.1" r="6.3"/><circle cx="1110.6" cy="1323.1" r="6.3"/><circle cx="1108.7" cy="1326.6" r="6.3"/><circle cx="1186.6" cy="1314.3" r="6.3"/><circle cx="1197.6" cy="1316.5" r="6.3"/><circle cx="1192.1" cy="1328.0" r="6.3"/><circle cx="1181.2" cy="1335.6" r="6.3"/><circle cx="1196.2" cy="1345.8" r="6.3"/><circle cx="1225.7" cy="1325.8" r="6.3"/><circle cx="1248.1" cy="1324.7" r="6.3"/><circle cx="1243.5" cy="1338.1" r="6.3"/><circle cx="1090.9" cy="1338.9" r="6.3"/><circle cx="1084.1" cy="1347.1" r="6.3"/><circle cx="1101.9" cy="1341.7" r="6.3"/><circle cx="1104.6" cy="1350.4" r="6.3"/><circle cx="1114.2" cy="1344.4" r="6.3"/><circle cx="1121.8" cy="1352.6" r="6.3"/><circle cx="1150.5" cy="1347.1" r="6.3"/><circle cx="1152.4" cy="1344.4" r="6.3"/><circle cx="1164.2" cy="1341.1" r="6.3"/><circle cx="1168.0" cy="1355.3" r="6.3"/><circle cx="1153.3" cy="1364.4" r="6.3"/><circle cx="1118.3" cy="1367.6" r="6.3"/><circle cx="1128.7" cy="1371.7" r="6.3"/><circle cx="1125.9" cy="1379.4" r="6.3"/><circle cx="1131.1" cy="1390.1" r="6.3"/><circle cx="1089.6" cy="1381.3" r="6.3"/><circle cx="1095.0" cy="1379.4" r="6.3"/><circle cx="1177.1" cy="1366.8" r="6.3"/><circle cx="1185.3" cy="1365.4" r="6.3"/><circle cx="1175.1" cy="1375.3" r="6.3"/><circle cx="1190.7" cy="1375.8" r="6.3"/><circle cx="1214.8" cy="1358.1" r="6.3"/><circle cx="1214.0" cy="1367.1" r="6.3"/><circle cx="1223.5" cy="1352.1" r="6.3"/><circle cx="1229.8" cy="1355.3" r="6.3"/><circle cx="1242.7" cy="1360.8" r="6.3"/><circle cx="1234.5" cy="1379.9" r="6.3"/><circle cx="1231.7" cy="1393.1" r="6.3"/><circle cx="1238.6" cy="1391.4" r="6.3"/><circle cx="1245.4" cy="1385.4" r="6.3"/><circle cx="1172.1" cy="1391.7" r="6.3"/><circle cx="1188.8" cy="1398.3" r="6.3"/><circle cx="1194.8" cy="1400.4" r="6.3"/><circle cx="1209.0" cy="1395.0" r="6.3"/><circle cx="1221.6" cy="1401.3" r="6.3"/><circle cx="1116.4" cy="1403.7" r="6.3"/><circle cx="1112.8" cy="1414.7" r="6.3"/><circle cx="1155.2" cy="1416.8" r="6.3"/><circle cx="1161.5" cy="1419.6" r="6.3"/><circle cx="1157.4" cy="1433.8" r="6.3"/><circle cx="1201.7" cy="1426.4" r="6.3"/><circle cx="1212.6" cy="1412.2" r="6.3"/><circle cx="1218.1" cy="1425.0" r="6.3"/><circle cx="1227.6" cy="1437.3" r="6.3"/><circle cx="1249.0" cy="1434.1" r="6.3"/><circle cx="1132.8" cy="1443.4" r="6.3"/><circle cx="1144.2" cy="1443.4" r="6.3"/><circle cx="1097.8" cy="1460.6" r="6.3"/><circle cx="1129.2" cy="1462.0" r="6.3"/><circle cx="1135.2" cy="1475.6" r="6.3"/><circle cx="1236.4" cy="1454.3" r="6.3"/><circle cx="1233.1" cy="1477.5" r="6.3"/><circle cx="1142.9" cy="1494.8" r="6.3"/><circle cx="1147.8" cy="1497.5" r="6.3"/><circle cx="1140.1" cy="1505.7" r="6.3"/><circle cx="1159.3" cy="1515.8" r="6.3"/><circle cx="1205.2" cy="1515.8" r="6.3"/><circle cx="1136.9" cy="1525.4" r="6.3"/><circle cx="1312.3" cy="1230.4" r="6.3"/><circle cx="1330.6" cy="1264.6" r="6.3"/><circle cx="1319.7" cy="1273.3" r="6.3"/><circle cx="1322.4" cy="1279.3" r="6.3"/><circle cx="1327.1" cy="1286.2" r="6.3"/><circle cx="1260.4" cy="1280.1" r="6.3"/><circle cx="1256.0" cy="1291.1" r="6.3"/><circle cx="1317.0" cy="1306.7" r="6.3"/><circle cx="1323.8" cy="1306.7" r="6.3"/><circle cx="1349.0" cy="1311.0" r="6.3"/><circle cx="1377.9" cy="1311.6" r="6.3"/><circle cx="1380.7" cy="1314.9" r="6.3"/><circle cx="1391.3" cy="1319.8" r="6.3"/><circle cx="1262.3" cy="1322.0" r="6.3"/><circle cx="1273.2" cy="1328.8" r="6.3"/><circle cx="1258.7" cy="1338.9" r="6.3"/><circle cx="1278.7" cy="1344.9" r="6.3"/><circle cx="1267.8" cy="1353.4" r="6.3"/><circle cx="1304.7" cy="1345.2" r="6.3"/><circle cx="1325.2" cy="1352.1" r="6.3"/><circle cx="1388.1" cy="1349.3" r="6.3"/><circle cx="1390.8" cy="1356.7" r="6.3"/><circle cx="1397.6" cy="1361.6" r="6.3"/><circle cx="1409.4" cy="1356.7" r="6.3"/><circle cx="1416.8" cy="1348.5" r="6.3"/><circle cx="1420.0" cy="1338.9" r="6.3"/><circle cx="1264.2" cy="1365.7" r="6.3"/><circle cx="1275.2" cy="1366.8" r="6.3"/><circle cx="1291.6" cy="1364.9" r="6.3"/><circle cx="1303.3" cy="1360.8" r="6.3"/><circle cx="1300.6" cy="1373.1" r="6.3"/><circle cx="1299.2" cy="1380.8" r="6.3"/><circle cx="1280.9" cy="1383.5" r="6.3"/><circle cx="1334.8" cy="1364.9" r="6.3"/><circle cx="1338.9" cy="1363.5" r="6.3"/><circle cx="1367.6" cy="1363.5" r="6.3"/><circle cx="1343.8" cy="1375.0" r="6.3"/><circle cx="1332.0" cy="1382.7" r="6.3"/><circle cx="1341.6" cy="1384.0" r="6.3"/><circle cx="1352.5" cy="1384.9" r="6.3"/><circle cx="1362.1" cy="1391.4" r="6.3"/><circle cx="1370.3" cy="1381.3" r="6.3"/><circle cx="1375.2" cy="1375.8" r="6.3"/><circle cx="1377.1" cy="1386.8" r="6.3"/><circle cx="1314.2" cy="1392.2" r="6.3"/><circle cx="1257.7" cy="1400.4" r="6.3"/><circle cx="1297.8" cy="1402.4" r="6.3"/><circle cx="1306.6" cy="1410.0" r="6.3"/><circle cx="1329.3" cy="1401.8" r="6.3"/><circle cx="1336.1" cy="1397.7" r="6.3"/><circle cx="1351.2" cy="1403.7" r="6.3"/><circle cx="1364.3" cy="1406.5" r="6.3"/><circle cx="1384.0" cy="1396.9" r="6.3"/><circle cx="1400.9" cy="1403.2" r="6.3"/><circle cx="1393.5" cy="1410.0" r="6.3"/><circle cx="1399.0" cy="1416.8" r="6.3"/><circle cx="1414.0" cy="1394.2" r="6.3"/><circle cx="1276.8" cy="1415.5" r="6.3"/><circle cx="1286.4" cy="1415.5" r="6.3"/><circle cx="1294.6" cy="1414.1" r="6.3"/><circle cx="1310.1" cy="1422.9" r="6.3"/><circle cx="1339.7" cy="1428.3" r="6.3"/><circle cx="1347.1" cy="1422.3" r="6.3"/><circle cx="1355.3" cy="1421.5" r="6.3"/><circle cx="1359.4" cy="1424.2" r="6.3"/><circle cx="1373.0" cy="1423.7" r="6.3"/><circle cx="1382.6" cy="1419.6" r="6.3"/><circle cx="1254.1" cy="1434.1" r="6.3"/><circle cx="1288.3" cy="1431.1" r="6.3"/><circle cx="1271.3" cy="1440.1" r="6.3"/><circle cx="1269.1" cy="1449.6" r="6.3"/><circle cx="1289.6" cy="1441.4" r="6.3"/><circle cx="1293.7" cy="1448.3" r="6.3"/><circle cx="1282.3" cy="1453.2" r="6.3"/><circle cx="1308.2" cy="1445.5" r="6.3"/><circle cx="1402.6" cy="1432.4" r="6.3"/><circle cx="1404.5" cy="1441.4" r="6.3"/><circle cx="1405.8" cy="1451.0" r="6.3"/><circle cx="1415.4" cy="1440.1" r="6.3"/><circle cx="1265.9" cy="1463.3" r="6.3"/><circle cx="1356.6" cy="1455.9" r="6.3"/><circle cx="1418.1" cy="1464.1" r="6.3"/><circle cx="1315.6" cy="1471.0" r="6.3"/><circle cx="1345.1" cy="1477.5" r="6.3"/><circle cx="1359.9" cy="1503.0" r="6.3"/><circle cx="1365.6" cy="1522.1" r="6.3"/><circle cx="1284.7" cy="1512.0" r="6.3"/><circle cx="1412.1" cy="1527.6" r="6.3"/><circle cx="1441.3" cy="1139.9" r="6.3"/><circle cx="1463.7" cy="1176.8" r="6.3"/><circle cx="1523.1" cy="1178.4" r="6.3"/><circle cx="1526.6" cy="1198.1" r="6.3"/><circle cx="1445.4" cy="1219.2" r="6.3"/><circle cx="1541.7" cy="1231.8" r="6.3"/><circle cx="1471.1" cy="1246.0" r="6.3"/><circle cx="1482.3" cy="1261.0" r="6.3"/><circle cx="1519.2" cy="1263.2" r="6.3"/><circle cx="1528.8" cy="1273.3" r="6.3"/><circle cx="1536.2" cy="1277.4" r="6.3"/><circle cx="1428.7" cy="1283.7" r="6.3"/><circle cx="1443.2" cy="1278.8" r="6.3"/><circle cx="1460.2" cy="1280.7" r="6.3"/><circle cx="1502.0" cy="1291.9" r="6.3"/><circle cx="1517.1" cy="1298.5" r="6.3"/><circle cx="1530.7" cy="1293.0" r="6.3"/><circle cx="1534.8" cy="1292.5" r="6.3"/><circle cx="1458.3" cy="1298.5" r="6.3"/><circle cx="1452.8" cy="1308.9" r="6.3"/><circle cx="1478.2" cy="1301.2" r="6.3"/><circle cx="1487.8" cy="1306.9" r="6.3"/><circle cx="1500.6" cy="1303.4" r="6.3"/><circle cx="1506.9" cy="1308.9" r="6.3"/><circle cx="1510.2" cy="1314.3" r="6.3"/><circle cx="1506.1" cy="1317.1" r="6.3"/><circle cx="1544.4" cy="1302.0" r="6.3"/><circle cx="1547.1" cy="1304.8" r="6.3"/><circle cx="1539.5" cy="1317.1" r="6.3"/><circle cx="1559.4" cy="1315.1" r="6.3"/><circle cx="1576.4" cy="1306.7" r="6.3"/><circle cx="1579.9" cy="1315.7" r="6.3"/><circle cx="1586.8" cy="1314.3" r="6.3"/><circle cx="1590.0" cy="1300.7" r="6.3"/><circle cx="1439.7" cy="1326.1" r="6.3"/><circle cx="1515.1" cy="1330.2" r="6.3"/><circle cx="1550.4" cy="1332.9" r="6.3"/><circle cx="1570.4" cy="1332.1" r="6.3"/><circle cx="1574.5" cy="1328.0" r="6.3"/><circle cx="1582.7" cy="1326.1" r="6.3"/><circle cx="1424.1" cy="1356.7" r="6.3"/><circle cx="1461.8" cy="1343.8" r="6.3"/><circle cx="1472.8" cy="1338.9" r="6.3"/><circle cx="1485.6" cy="1344.9" r="6.3"/><circle cx="1448.7" cy="1355.3" r="6.3"/><circle cx="1468.7" cy="1355.3" r="6.3"/><circle cx="1475.5" cy="1352.6" r="6.3"/><circle cx="1498.7" cy="1351.8" r="6.3"/><circle cx="1497.1" cy="1363.5" r="6.3"/><circle cx="1467.3" cy="1369.5" r="6.3"/><circle cx="1548.5" cy="1354.8" r="6.3"/><circle cx="1554.0" cy="1363.5" r="6.3"/><circle cx="1565.7" cy="1369.0" r="6.3"/><circle cx="1569.0" cy="1373.9" r="6.3"/><circle cx="1578.0" cy="1348.5" r="6.3"/><circle cx="1585.4" cy="1366.3" r="6.3"/><circle cx="1432.3" cy="1381.3" r="6.3"/><circle cx="1493.8" cy="1377.2" r="6.3"/><circle cx="1491.1" cy="1382.7" r="6.3"/><circle cx="1511.6" cy="1375.0" r="6.3"/><circle cx="1532.1" cy="1382.7" r="6.3"/><circle cx="1563.5" cy="1382.7" r="6.3"/><circle cx="1584.0" cy="1380.8" r="6.3"/><circle cx="1446.8" cy="1392.8" r="6.3"/><circle cx="1454.2" cy="1400.4" r="6.3"/><circle cx="1450.6" cy="1407.3" r="6.3"/><circle cx="1484.2" cy="1399.1" r="6.3"/><circle cx="1489.7" cy="1409.5" r="6.3"/><circle cx="1480.7" cy="1416.8" r="6.3"/><circle cx="1513.8" cy="1393.1" r="6.3"/><circle cx="1524.7" cy="1392.2" r="6.3"/><circle cx="1508.0" cy="1408.6" r="6.3"/><circle cx="1552.0" cy="1390.9" r="6.3"/><circle cx="1561.6" cy="1391.7" r="6.3"/><circle cx="1437.8" cy="1419.6" r="6.3"/><circle cx="1430.9" cy="1427.0" r="6.3"/><circle cx="1434.2" cy="1431.9" r="6.3"/><circle cx="1537.6" cy="1418.2" r="6.3"/><circle cx="1520.6" cy="1427.8" r="6.3"/><circle cx="1558.1" cy="1425.0" r="6.3"/><circle cx="1555.9" cy="1428.6" r="6.3"/><circle cx="1567.6" cy="1415.5" r="6.3"/><circle cx="1588.1" cy="1425.0" r="6.3"/><circle cx="1456.4" cy="1443.6" r="6.3"/><circle cx="1426.8" cy="1462.0" r="6.3"/><circle cx="1493.3" cy="1462.5" r="6.3"/><circle cx="1465.1" cy="1479.2" r="6.3"/><circle cx="1476.9" cy="1476.2" r="6.3"/><circle cx="1572.6" cy="1472.1" r="6.3"/><circle cx="1436.4" cy="1499.4" r="6.3"/><circle cx="1543.6" cy="1502.4" r="6.3"/><circle cx="1753.5" cy="1173.0" r="6.3"/><circle cx="1700.2" cy="1217.3" r="6.3"/><circle cx="1704.0" cy="1232.3" r="6.3"/><circle cx="1722.6" cy="1230.9" r="6.3"/><circle cx="1705.6" cy="1254.7" r="6.3"/><circle cx="1735.4" cy="1251.4" r="6.3"/><circle cx="1760.0" cy="1268.7" r="6.3"/><circle cx="1616.8" cy="1237.0" r="6.3"/><circle cx="1607.8" cy="1246.5" r="6.3"/><circle cx="1611.3" cy="1260.2" r="6.3"/><circle cx="1620.9" cy="1272.5" r="6.3"/><circle cx="1679.7" cy="1288.4" r="6.3"/><circle cx="1702.1" cy="1297.9" r="6.3"/><circle cx="1696.6" cy="1311.6" r="6.3"/><circle cx="1740.9" cy="1302.0" r="6.3"/><circle cx="1602.3" cy="1306.1" r="6.3"/><circle cx="1604.2" cy="1311.6" r="6.3"/><circle cx="1613.8" cy="1303.4" r="6.3"/><circle cx="1635.7" cy="1299.3" r="6.3"/><circle cx="1641.1" cy="1314.3" r="6.3"/><circle cx="1618.7" cy="1331.3" r="6.3"/><circle cx="1609.7" cy="1338.9" r="6.3"/><circle cx="1598.2" cy="1355.3" r="6.3"/><circle cx="1630.5" cy="1354.0" r="6.3"/><circle cx="1637.8" cy="1348.5" r="6.3"/><circle cx="1646.6" cy="1346.3" r="6.3"/><circle cx="1615.2" cy="1364.9" r="6.3"/><circle cx="1622.8" cy="1369.0" r="6.3"/><circle cx="1713.0" cy="1330.2" r="6.3"/><circle cx="1715.2" cy="1338.9" r="6.3"/><circle cx="1728.1" cy="1337.0" r="6.3"/><circle cx="1698.8" cy="1341.1" r="6.3"/><circle cx="1689.0" cy="1347.7" r="6.3"/><circle cx="1707.6" cy="1349.9" r="6.3"/><circle cx="1710.3" cy="1355.3" r="6.3"/><circle cx="1717.1" cy="1356.7" r="6.3"/><circle cx="1720.7" cy="1363.5" r="6.3"/><circle cx="1733.5" cy="1363.0" r="6.3"/><circle cx="1730.8" cy="1373.1" r="6.3"/><circle cx="1739.0" cy="1379.9" r="6.3"/><circle cx="1747.2" cy="1380.8" r="6.3"/><circle cx="1748.0" cy="1391.4" r="6.3"/><circle cx="1751.8" cy="1336.2" r="6.3"/><circle cx="1759.0" cy="1375.8" r="6.3"/><circle cx="1597.7" cy="1384.9" r="6.3"/><circle cx="1605.9" cy="1394.4" r="6.3"/><circle cx="1627.5" cy="1384.0" r="6.3"/><circle cx="1631.6" cy="1390.9" r="6.3"/><circle cx="1643.3" cy="1382.7" r="6.3"/><circle cx="1644.7" cy="1393.1" r="6.3"/><circle cx="1657.5" cy="1383.5" r="6.3"/><circle cx="1676.1" cy="1393.6" r="6.3"/><circle cx="1687.1" cy="1399.9" r="6.3"/><circle cx="1674.2" cy="1405.9" r="6.3"/><circle cx="1683.0" cy="1406.7" r="6.3"/><circle cx="1624.2" cy="1418.2" r="6.3"/><circle cx="1633.2" cy="1411.4" r="6.3"/><circle cx="1639.2" cy="1423.7" r="6.3"/><circle cx="1648.0" cy="1414.1" r="6.3"/><circle cx="1652.9" cy="1412.7" r="6.3"/><circle cx="1654.8" cy="1420.1" r="6.3"/><circle cx="1655.6" cy="1431.3" r="6.3"/><circle cx="1668.7" cy="1416.3" r="6.3"/><circle cx="1694.7" cy="1425.6" r="6.3"/><circle cx="1754.9" cy="1422.3" r="6.3"/><circle cx="1677.5" cy="1446.9" r="6.3"/><circle cx="1685.1" cy="1455.1" r="6.3"/><circle cx="1691.2" cy="1462.0" r="6.3"/><circle cx="1725.3" cy="1441.4" r="6.3"/><circle cx="1724.0" cy="1448.3" r="6.3"/><circle cx="1729.4" cy="1455.1" r="6.3"/><circle cx="1737.6" cy="1445.5" r="6.3"/><circle cx="1650.1" cy="1457.9" r="6.3"/><circle cx="1659.7" cy="1457.9" r="6.3"/><circle cx="1626.4" cy="1472.9" r="6.3"/><circle cx="1672.0" cy="1477.0" r="6.3"/><circle cx="1663.3" cy="1485.7" r="6.3"/><circle cx="1661.1" cy="1500.8" r="6.3"/><circle cx="1670.6" cy="1497.5" r="6.3"/><circle cx="1756.2" cy="1480.3" r="6.3"/><circle cx="1749.9" cy="1510.6" r="6.3"/><circle cx="1758.1" cy="1519.4" r="6.3"/><circle cx="1744.5" cy="1553.5" r="6.3"/><circle cx="1693.1" cy="1560.9" r="6.3"/><circle cx="1665.2" cy="1617.8" r="6.3"/><circle cx="1742.3" cy="1654.7" r="6.3"/><circle cx="1770.4" cy="1042.3" r="6.3"/><circle cx="1772.3" cy="1078.4" r="6.3"/><circle cx="1801.6" cy="1078.4" r="6.3"/><circle cx="1798.3" cy="1172.7" r="6.3"/><circle cx="1768.7" cy="1180.4" r="6.3"/><circle cx="1781.3" cy="1183.1" r="6.3"/><circle cx="1785.2" cy="1206.3" r="6.3"/><circle cx="1816.6" cy="1206.3" r="6.3"/><circle cx="1779.1" cy="1224.7" r="6.3"/><circle cx="1844.2" cy="1246.0" r="6.3"/><circle cx="1820.1" cy="1260.2" r="6.3"/><circle cx="1775.9" cy="1283.7" r="6.3"/><circle cx="1831.1" cy="1282.1" r="6.3"/><circle cx="1846.1" cy="1280.1" r="6.3"/><circle cx="1842.0" cy="1304.8" r="6.3"/><circle cx="1851.6" cy="1298.7" r="6.3"/><circle cx="1783.2" cy="1318.4" r="6.3"/><circle cx="1824.2" cy="1315.1" r="6.3"/><circle cx="1777.8" cy="1340.8" r="6.3"/><circle cx="1849.7" cy="1343.0" r="6.3"/><circle cx="1806.5" cy="1351.2" r="6.3"/><circle cx="1809.2" cy="1356.7" r="6.3"/><circle cx="1818.8" cy="1352.6" r="6.3"/><circle cx="1829.7" cy="1358.9" r="6.3"/><circle cx="1786.8" cy="1364.9" r="6.3"/><circle cx="1799.6" cy="1373.1" r="6.3"/><circle cx="1814.7" cy="1378.0" r="6.3"/><circle cx="1833.3" cy="1380.5" r="6.3"/><circle cx="1839.3" cy="1377.7" r="6.3"/><circle cx="1795.5" cy="1387.3" r="6.3"/><circle cx="1792.3" cy="1398.5" r="6.3"/><circle cx="1774.2" cy="1399.1" r="6.3"/><circle cx="1766.8" cy="1408.1" r="6.3"/><circle cx="1822.1" cy="1405.4" r="6.3"/><circle cx="1803.2" cy="1416.3" r="6.3"/><circle cx="1840.6" cy="1420.9" r="6.3"/><circle cx="1836.5" cy="1439.3" r="6.3"/><circle cx="1848.0" cy="1439.3" r="6.3"/><circle cx="1811.1" cy="1453.8" r="6.3"/><circle cx="1827.0" cy="1483.8" r="6.3"/><circle cx="1834.6" cy="1483.0" r="6.3"/><circle cx="1825.6" cy="1497.5" r="6.3"/><circle cx="1790.6" cy="1500.2" r="6.3"/><circle cx="1794.2" cy="1526.7" r="6.3"/><circle cx="1812.8" cy="1536.6" r="6.3"/><circle cx="1805.1" cy="1542.6" r="6.3"/><circle cx="1789.3" cy="1582.2" r="6.3"/></g>
<rect x="226.00" y="1030.00" width="1657.70" height="637.60" fill="none" stroke="#000" stroke-width="6.0"/>
<path d="M257.80 1844.00V1828.20M257.80 2485.60V2501.40M302.12 1844.00V1836.20M302.12 2485.60V2493.40M346.44 1844.00V1836.20M346.44 2485.60V2493.40M390.77 1844.00V1828.20M390.77 2485.60V2501.40M435.09 1844.00V1836.20M435.09 2485.60V2493.40M479.41 1844.00V1836.20M479.41 2485.60V2493.40M523.73 1844.00V1828.20M523.73 2485.60V2501.40M568.06 1844.00V1836.20M568.06 2485.60V2493.40M612.38 1844.00V1836.20M612.38 2485.60V2493.40M656.70 1844.00V1828.20M656.70 2485.60V2501.40M701.02 1844.00V1836.20M701.02 2485.60V2493.40M745.34 1844.00V1836.20M745.34 2485.60V2493.40M789.67 1844.00V1828.20M789.67 2485.60V2501.40M833.99 1844.00V1836.20M833.99 2485.60V2493.40M878.31 1844.00V1836.20M878.31 2485.60V2493.40M922.63 1844.00V1828.20M922.63 2485.60V2501.40M966.96 1844.00V1836.20M966.96 2485.60V2493.40M1011.28 1844.00V1836.20M1011.28 2485.60V2493.40M1055.60 1844.00V1828.20M1055.60 2485.60V2501.40M1099.92 1844.00V1836.20M1099.92 2485.60V2493.40M1144.24 1844.00V1836.20M1144.24 2485.60V2493.40M1188.57 1844.00V1828.20M1188.57 2485.60V2501.40M1232.89 1844.00V1836.20M1232.89 2485.60V2493.40M1277.21 1844.00V1836.20M1277.21 2485.60V2493.40M1321.53 1844.00V1828.20M1321.53 2485.60V2501.40M1365.86 1844.00V1836.20M1365.86 2485.60V2493.40M1410.18 1844.00V1836.20M1410.18 2485.60V2493.40M1454.50 1844.00V1828.20M1454.50 2485.60V2501.40M1498.82 1844.00V1836.20M1498.82 2485.60V2493.40M1543.14 1844.00V1836.20M1543.14 2485.60V2493.40M1587.47 1844.00V1828.20M1587.47 2485.60V2501.40M1631.79 1844.00V1836.20M1631.79 2485.60V2493.40M1676.11 1844.00V1836.20M1676.11 2485.60V2493.40M1720.43 1844.00V1828.20M1720.43 2485.60V2501.40M1764.76 1844.00V1836.20M1764.76 2485.60V2493.40M1809.08 1844.00V1836.20M1809.08 2485.60V2493.40M1853.40 1844.00V1828.20M1853.40 2485.60V2501.40M224.00 1846.80H208.20M1885.70 1846.80H1901.50M224.00 1959.70H208.20M1885.70 1959.70H1901.50M224.00 2072.60H208.20M1885.70 2072.60H1901.50M224.00 2185.50H208.20M1885.70 2185.50H1901.50M224.00 2298.40H208.20M1885.70 2298.40H1901.50M224.00 2411.30H208.20M1885.70 2411.30H1901.50" stroke="#000" stroke-width="2.4" fill="none" stroke-linecap="round"/>
<g font-size="44.5" font-weight="bold" fill="#000"><text x="245.43" y="2549.80">0</text><text x="378.39" y="2549.80">6</text><path transform="translate(498.98 2549.80)" d="M11.9 0V-20.9H5.0V-24.7C9.8 -24.8 13.0 -26.8 14.1 -29.9H17.9V0Z"/><text x="523.73" y="2549.80">2</text><path transform="translate(631.95 2549.80)" d="M11.9 0V-20.9H5.0V-24.7C9.8 -24.8 13.0 -26.8 14.1 -29.9H17.9V0Z"/><text x="656.70" y="2549.80">8</text><text x="764.92" y="2549.80">2</text><text x="789.67" y="2549.80">4</text><text x="897.88" y="2549.80">3</text><text x="922.63" y="2549.80">0</text><text x="1030.85" y="2549.80">3</text><text x="1055.60" y="2549.80">6</text><text x="1163.82" y="2549.80">4</text><text x="1188.57" y="2549.80">2</text><text x="1296.78" y="2549.80">4</text><text x="1321.53" y="2549.80">8</text><text x="1429.75" y="2549.80">5</text><text x="1454.50" y="2549.80">4</text><text x="1562.72" y="2549.80">6</text><text x="1587.47" y="2549.80">0</text><text x="1695.68" y="2549.80">6</text><text x="1720.43" y="2549.80">6</text><text x="1828.65" y="2549.80">7</text><text x="1853.40" y="2549.80">2</text><text x="141.21" y="1862.20">4</text><text x="165.96" y="1862.20">0</text><text x="141.21" y="1975.10">2</text><text x="165.96" y="1975.10">0</text><text x="165.96" y="2088.00">0</text><text x="141.21" y="2200.90">2</text><text x="165.96" y="2200.90">0</text><rect x="119.61" y="2189.00" width="21.1" height="5.0"/><text x="141.21" y="2313.80">4</text><text x="165.96" y="2313.80">0</text><rect x="119.61" y="2301.90" width="21.1" height="5.0"/><text x="141.21" y="2426.70">6</text><text x="165.96" y="2426.70">0</text><rect x="119.61" y="2414.80" width="21.1" height="5.0"/></g>
<text transform="translate(90.1 2165.10) rotate(-90) scale(0.9476 1)" font-size="44.8" text-anchor="middle">Up (mm)</text>
<g fill="#0000ff"><circle cx="312.8" cy="1972.3" r="6.3"/><circle cx="316.9" cy="1985.4" r="6.3"/><circle cx="396.2" cy="2029.2" r="6.3"/><circle cx="261.4" cy="2044.2" r="6.3"/><circle cx="269.1" cy="2051.0" r="6.3"/><circle cx="363.1" cy="2044.2" r="6.3"/><circle cx="390.8" cy="2048.9" r="6.3"/><circle cx="257.3" cy="2072.1" r="6.3"/><circle cx="339.4" cy="2070.2" r="6.3"/><circle cx="377.9" cy="2071.5" r="6.3"/><circle cx="396.8" cy="2070.7" r="6.3"/><circle cx="394.0" cy="2076.2" r="6.3"/><circle cx="285.5" cy="2075.1" r="6.3"/><circle cx="296.4" cy="2079.7" r="6.3"/><circle cx="288.8" cy="2088.8" r="6.3"/><circle cx="340.7" cy="2087.1" r="6.3"/><circle cx="350.3" cy="2092.9" r="6.3"/><circle cx="361.2" cy="2094.2" r="6.3"/><circle cx="364.8" cy="2087.1" r="6.3"/><circle cx="372.2" cy="2090.1" r="6.3"/><circle cx="379.8" cy="2093.4" r="6.3"/><circle cx="387.2" cy="2089.9" r="6.3"/><circle cx="388.6" cy="2098.9" r="6.3"/><circle cx="398.1" cy="2100.3" r="6.3"/><circle cx="281.4" cy="2102.2" r="6.3"/><circle cx="273.7" cy="2110.6" r="6.3"/><circle cx="279.2" cy="2115.3" r="6.3"/><circle cx="292.9" cy="2115.3" r="6.3"/><circle cx="300.5" cy="2119.4" r="6.3"/><circle cx="322.4" cy="2104.4" r="6.3"/><circle cx="332.0" cy="2104.4" r="6.3"/><circle cx="333.9" cy="2110.6" r="6.3"/><circle cx="347.0" cy="2107.1" r="6.3"/><circle cx="354.4" cy="2116.7" r="6.3"/><circle cx="368.6" cy="2119.9" r="6.3"/><circle cx="327.9" cy="2124.0" r="6.3"/><circle cx="336.6" cy="2124.9" r="6.3"/><circle cx="337.4" cy="2136.3" r="6.3"/><circle cx="357.1" cy="2132.5" r="6.3"/><circle cx="379.8" cy="2131.7" r="6.3"/><circle cx="374.1" cy="2142.1" r="6.3"/><circle cx="265.0" cy="2131.7" r="6.3"/><circle cx="272.4" cy="2129.0" r="6.3"/><circle cx="287.4" cy="2139.1" r="6.3"/><circle cx="307.9" cy="2144.0" r="6.3"/><circle cx="366.7" cy="2150.8" r="6.3"/><circle cx="392.7" cy="2153.6" r="6.3"/><circle cx="399.5" cy="2142.6" r="6.3"/><circle cx="292.3" cy="2152.2" r="6.3"/><circle cx="295.6" cy="2151.6" r="6.3"/><circle cx="324.3" cy="2152.7" r="6.3"/><circle cx="329.8" cy="2152.7" r="6.3"/><circle cx="352.2" cy="2160.4" r="6.3"/><circle cx="385.3" cy="2163.7" r="6.3"/><circle cx="263.4" cy="2157.7" r="6.3"/><circle cx="268.3" cy="2168.6" r="6.3"/><circle cx="273.2" cy="2170.0" r="6.3"/><circle cx="278.7" cy="2170.8" r="6.3"/><circle cx="283.3" cy="2162.3" r="6.3"/><circle cx="303.8" cy="2164.5" r="6.3"/><circle cx="348.9" cy="2170.0" r="6.3"/><circle cx="344.3" cy="2176.8" r="6.3"/><circle cx="355.2" cy="2174.1" r="6.3"/><circle cx="376.3" cy="2181.7" r="6.3"/><circle cx="383.6" cy="2192.4" r="6.3"/><circle cx="370.2" cy="2201.4" r="6.3"/><circle cx="301.6" cy="2180.1" r="6.3"/><circle cx="305.2" cy="2186.4" r="6.3"/><circle cx="297.8" cy="2192.7" r="6.3"/><circle cx="320.2" cy="2191.8" r="6.3"/><circle cx="314.8" cy="2227.4" r="6.3"/><circle cx="326.2" cy="2243.0" r="6.3"/><circle cx="318.9" cy="2256.1" r="6.3"/><circle cx="308.7" cy="2259.6" r="6.3"/><circle cx="311.2" cy="2368.7" r="6.3"/><circle cx="494.3" cy="1870.1" r="6.3"/><circle cx="431.4" cy="1916.3" r="6.3"/><circle cx="436.9" cy="1945.2" r="6.3"/><circle cx="484.8" cy="1941.7" r="6.3"/><circle cx="482.8" cy="1954.0" r="6.3"/><circle cx="429.5" cy="1979.1" r="6.3"/><circle cx="460.7" cy="1977.2" r="6.3"/><circle cx="488.9" cy="1984.1" r="6.3"/><circle cx="493.0" cy="1981.9" r="6.3"/><circle cx="480.6" cy="1998.6" r="6.3"/><circle cx="475.2" cy="2004.0" r="6.3"/><circle cx="412.3" cy="2021.0" r="6.3"/><circle cx="409.6" cy="2026.4" r="6.3"/><circle cx="426.0" cy="2020.4" r="6.3"/><circle cx="421.9" cy="2028.6" r="6.3"/><circle cx="444.3" cy="2035.2" r="6.3"/><circle cx="464.2" cy="2024.2" r="6.3"/><circle cx="469.7" cy="2034.1" r="6.3"/><circle cx="467.8" cy="2042.3" r="6.3"/><circle cx="471.9" cy="2049.7" r="6.3"/><circle cx="508.8" cy="2037.4" r="6.3"/><circle cx="418.6" cy="2054.3" r="6.3"/><circle cx="427.3" cy="2064.2" r="6.3"/><circle cx="442.4" cy="2063.3" r="6.3"/><circle cx="453.3" cy="2066.1" r="6.3"/><circle cx="457.4" cy="2057.9" r="6.3"/><circle cx="495.7" cy="2057.9" r="6.3"/><circle cx="405.5" cy="2068.8" r="6.3"/><circle cx="410.9" cy="2079.7" r="6.3"/><circle cx="438.8" cy="2084.7" r="6.3"/><circle cx="544.1" cy="2068.0" r="6.3"/><circle cx="555.3" cy="2081.1" r="6.3"/><circle cx="514.3" cy="2075.1" r="6.3"/><circle cx="505.3" cy="2081.7" r="6.3"/><circle cx="503.1" cy="2087.4" r="6.3"/><circle cx="518.1" cy="2093.4" r="6.3"/><circle cx="458.2" cy="2094.2" r="6.3"/><circle cx="477.9" cy="2102.4" r="6.3"/><circle cx="462.9" cy="2107.1" r="6.3"/><circle cx="424.1" cy="2111.2" r="6.3"/><circle cx="449.2" cy="2117.2" r="6.3"/><circle cx="454.7" cy="2117.2" r="6.3"/><circle cx="466.4" cy="2118.0" r="6.3"/><circle cx="510.7" cy="2107.1" r="6.3"/><circle cx="531.2" cy="2113.4" r="6.3"/><circle cx="536.7" cy="2110.6" r="6.3"/><circle cx="516.2" cy="2119.4" r="6.3"/><circle cx="512.1" cy="2127.0" r="6.3"/><circle cx="521.7" cy="2129.0" r="6.3"/><circle cx="524.4" cy="2134.4" r="6.3"/><circle cx="537.5" cy="2127.6" r="6.3"/><circle cx="546.3" cy="2131.7" r="6.3"/><circle cx="565.4" cy="2127.0" r="6.3"/><circle cx="445.9" cy="2139.1" r="6.3"/><circle cx="473.8" cy="2138.5" r="6.3"/><circle cx="486.9" cy="2131.7" r="6.3"/><circle cx="498.4" cy="2141.8" r="6.3"/><circle cx="507.4" cy="2144.5" r="6.3"/><circle cx="534.5" cy="2141.3" r="6.3"/><circle cx="413.7" cy="2141.8" r="6.3"/><circle cx="406.8" cy="2149.5" r="6.3"/><circle cx="432.8" cy="2167.2" r="6.3"/><circle cx="440.5" cy="2163.1" r="6.3"/><circle cx="448.7" cy="2162.6" r="6.3"/><circle cx="518.9" cy="2160.9" r="6.3"/><circle cx="530.7" cy="2156.3" r="6.3"/><circle cx="528.5" cy="2163.1" r="6.3"/><circle cx="542.2" cy="2160.9" r="6.3"/><circle cx="560.8" cy="2152.2" r="6.3"/><circle cx="564.0" cy="2156.3" r="6.3"/><circle cx="557.2" cy="2164.5" r="6.3"/><circle cx="547.6" cy="2176.3" r="6.3"/><circle cx="559.1" cy="2178.2" r="6.3"/><circle cx="549.5" cy="2189.1" r="6.3"/><circle cx="435.0" cy="2200.0" r="6.3"/><circle cx="525.8" cy="2206.3" r="6.3"/><circle cx="552.6" cy="2209.1" r="6.3"/><circle cx="562.7" cy="2205.5" r="6.3"/><circle cx="540.2" cy="2217.3" r="6.3"/><circle cx="551.2" cy="2226.6" r="6.3"/><circle cx="501.2" cy="2215.6" r="6.3"/><circle cx="479.3" cy="2230.1" r="6.3"/><circle cx="490.2" cy="2227.4" r="6.3"/><circle cx="497.9" cy="2243.2" r="6.3"/><circle cx="566.8" cy="2236.1" r="6.3"/><circle cx="569.5" cy="2275.2" r="6.3"/><circle cx="568.1" cy="2297.1" r="6.3"/><circle cx="606.9" cy="1998.3" r="6.3"/><circle cx="652.8" cy="1999.1" r="6.3"/><circle cx="601.4" cy="2045.6" r="6.3"/><circle cx="602.8" cy="2057.1" r="6.3"/><circle cx="639.7" cy="2046.9" r="6.3"/><circle cx="649.3" cy="2054.6" r="6.3"/><circle cx="643.8" cy="2068.8" r="6.3"/><circle cx="650.6" cy="2072.9" r="6.3"/><circle cx="637.8" cy="2075.6" r="6.3"/><circle cx="641.6" cy="2077.0" r="6.3"/><circle cx="633.4" cy="2084.4" r="6.3"/><circle cx="628.2" cy="2090.1" r="6.3"/><circle cx="691.1" cy="2071.5" r="6.3"/><circle cx="697.1" cy="2085.2" r="6.3"/><circle cx="705.3" cy="2059.8" r="6.3"/><circle cx="709.4" cy="2058.7" r="6.3"/><circle cx="715.7" cy="2078.4" r="6.3"/><circle cx="724.5" cy="2087.9" r="6.3"/><circle cx="731.3" cy="2088.8" r="6.3"/><circle cx="678.8" cy="2091.2" r="6.3"/><circle cx="680.7" cy="2100.3" r="6.3"/><circle cx="676.6" cy="2103.0" r="6.3"/><circle cx="590.5" cy="2107.1" r="6.3"/><circle cx="597.3" cy="2115.3" r="6.3"/><circle cx="608.3" cy="2107.9" r="6.3"/><circle cx="613.2" cy="2112.6" r="6.3"/><circle cx="617.0" cy="2116.7" r="6.3"/><circle cx="610.5" cy="2126.2" r="6.3"/><circle cx="636.4" cy="2115.8" r="6.3"/><circle cx="645.2" cy="2104.4" r="6.3"/><circle cx="657.5" cy="2109.8" r="6.3"/><circle cx="659.7" cy="2115.3" r="6.3"/><circle cx="664.3" cy="2120.2" r="6.3"/><circle cx="684.3" cy="2116.7" r="6.3"/><circle cx="719.0" cy="2112.6" r="6.3"/><circle cx="734.0" cy="2124.0" r="6.3"/><circle cx="738.1" cy="2135.2" r="6.3"/><circle cx="580.9" cy="2139.9" r="6.3"/><circle cx="585.0" cy="2138.0" r="6.3"/><circle cx="605.0" cy="2139.3" r="6.3"/><circle cx="626.9" cy="2147.3" r="6.3"/><circle cx="632.9" cy="2157.7" r="6.3"/><circle cx="621.1" cy="2165.3" r="6.3"/><circle cx="586.4" cy="2154.9" r="6.3"/><circle cx="594.6" cy="2157.7" r="6.3"/><circle cx="596.0" cy="2167.8" r="6.3"/><circle cx="654.8" cy="2152.2" r="6.3"/><circle cx="661.6" cy="2157.7" r="6.3"/><circle cx="658.9" cy="2163.7" r="6.3"/><circle cx="667.1" cy="2163.7" r="6.3"/><circle cx="671.2" cy="2168.1" r="6.3"/><circle cx="673.3" cy="2143.2" r="6.3"/><circle cx="682.1" cy="2141.8" r="6.3"/><circle cx="675.3" cy="2153.6" r="6.3"/><circle cx="694.4" cy="2145.4" r="6.3"/><circle cx="699.9" cy="2142.6" r="6.3"/><circle cx="706.7" cy="2134.4" r="6.3"/><circle cx="701.2" cy="2156.3" r="6.3"/><circle cx="709.4" cy="2163.7" r="6.3"/><circle cx="717.6" cy="2163.1" r="6.3"/><circle cx="721.2" cy="2142.6" r="6.3"/><circle cx="723.1" cy="2152.2" r="6.3"/><circle cx="732.7" cy="2151.6" r="6.3"/><circle cx="737.3" cy="2156.3" r="6.3"/><circle cx="726.7" cy="2174.9" r="6.3"/><circle cx="740.0" cy="2180.9" r="6.3"/><circle cx="613.7" cy="2189.1" r="6.3"/><circle cx="626.0" cy="2184.2" r="6.3"/><circle cx="631.5" cy="2180.9" r="6.3"/><circle cx="591.9" cy="2195.1" r="6.3"/><circle cx="575.5" cy="2204.1" r="6.3"/><circle cx="582.3" cy="2218.4" r="6.3"/><circle cx="599.5" cy="2206.3" r="6.3"/><circle cx="623.3" cy="2209.1" r="6.3"/><circle cx="686.2" cy="2197.3" r="6.3"/><circle cx="687.6" cy="2205.5" r="6.3"/><circle cx="695.8" cy="2215.1" r="6.3"/><circle cx="689.5" cy="2225.5" r="6.3"/><circle cx="669.8" cy="2215.1" r="6.3"/><circle cx="665.7" cy="2227.9" r="6.3"/><circle cx="712.2" cy="2235.6" r="6.3"/><circle cx="713.5" cy="2238.9" r="6.3"/><circle cx="728.6" cy="2229.3" r="6.3"/><circle cx="735.4" cy="2198.7" r="6.3"/><circle cx="738.1" cy="2206.9" r="6.3"/><circle cx="619.2" cy="2247.9" r="6.3"/><circle cx="588.6" cy="2257.4" r="6.3"/><circle cx="579.6" cy="2265.6" r="6.3"/><circle cx="618.1" cy="2271.1" r="6.3"/><circle cx="702.6" cy="2259.4" r="6.3"/><circle cx="841.2" cy="1936.2" r="6.3"/><circle cx="881.6" cy="1973.7" r="6.3"/><circle cx="822.8" cy="1985.4" r="6.3"/><circle cx="845.3" cy="1990.3" r="6.3"/><circle cx="835.7" cy="2020.1" r="6.3"/><circle cx="869.0" cy="2020.1" r="6.3"/><circle cx="908.1" cy="2021.8" r="6.3"/><circle cx="889.0" cy="2034.6" r="6.3"/><circle cx="819.3" cy="2040.7" r="6.3"/><circle cx="854.3" cy="2043.4" r="6.3"/><circle cx="863.8" cy="2040.1" r="6.3"/><circle cx="880.0" cy="2053.0" r="6.3"/><circle cx="895.0" cy="2058.4" r="6.3"/><circle cx="833.5" cy="2059.8" r="6.3"/><circle cx="843.3" cy="2065.3" r="6.3"/><circle cx="830.2" cy="2074.3" r="6.3"/><circle cx="817.1" cy="2072.4" r="6.3"/><circle cx="820.6" cy="2079.7" r="6.3"/><circle cx="824.8" cy="2085.2" r="6.3"/><circle cx="848.8" cy="2076.2" r="6.3"/><circle cx="858.1" cy="2064.7" r="6.3"/><circle cx="867.1" cy="2062.5" r="6.3"/><circle cx="906.8" cy="2083.8" r="6.3"/><circle cx="891.2" cy="2094.8" r="6.3"/><circle cx="798.8" cy="2097.5" r="6.3"/><circle cx="800.1" cy="2109.8" r="6.3"/><circle cx="808.3" cy="2109.8" r="6.3"/><circle cx="816.0" cy="2110.6" r="6.3"/><circle cx="826.9" cy="2120.8" r="6.3"/><circle cx="805.6" cy="2122.1" r="6.3"/><circle cx="802.9" cy="2130.3" r="6.3"/><circle cx="811.9" cy="2131.7" r="6.3"/><circle cx="789.2" cy="2131.7" r="6.3"/><circle cx="828.0" cy="2133.6" r="6.3"/><circle cx="865.8" cy="2106.3" r="6.3"/><circle cx="874.0" cy="2111.2" r="6.3"/><circle cx="876.1" cy="2119.9" r="6.3"/><circle cx="887.6" cy="2111.7" r="6.3"/><circle cx="902.1" cy="2112.0" r="6.3"/><circle cx="859.5" cy="2122.7" r="6.3"/><circle cx="893.1" cy="2129.0" r="6.3"/><circle cx="874.5" cy="2136.3" r="6.3"/><circle cx="850.7" cy="2139.9" r="6.3"/><circle cx="861.7" cy="2143.4" r="6.3"/><circle cx="870.7" cy="2154.9" r="6.3"/><circle cx="898.0" cy="2146.2" r="6.3"/><circle cx="904.0" cy="2146.7" r="6.3"/><circle cx="905.4" cy="2160.4" r="6.3"/><circle cx="846.6" cy="2157.7" r="6.3"/><circle cx="884.1" cy="2167.8" r="6.3"/><circle cx="793.3" cy="2159.0" r="6.3"/><circle cx="809.7" cy="2157.1" r="6.3"/><circle cx="804.2" cy="2164.5" r="6.3"/><circle cx="795.2" cy="2173.2" r="6.3"/><circle cx="878.1" cy="2188.3" r="6.3"/><circle cx="910.0" cy="2197.3" r="6.3"/><circle cx="813.3" cy="2195.4" r="6.3"/><circle cx="885.7" cy="2204.1" r="6.3"/><circle cx="896.4" cy="2208.2" r="6.3"/><circle cx="909.5" cy="2219.2" r="6.3"/><circle cx="796.9" cy="2217.3" r="6.3"/><circle cx="839.2" cy="2224.1" r="6.3"/><circle cx="856.2" cy="2220.0" r="6.3"/><circle cx="791.4" cy="2246.0" r="6.3"/><circle cx="837.6" cy="2248.7" r="6.3"/><circle cx="900.5" cy="2265.1" r="6.3"/><circle cx="1024.3" cy="1864.6" r="6.3"/><circle cx="1065.0" cy="1897.1" r="6.3"/><circle cx="1007.6" cy="1927.2" r="6.3"/><circle cx="1042.6" cy="1928.0" r="6.3"/><circle cx="1038.5" cy="1934.9" r="6.3"/><circle cx="1044.5" cy="1934.9" r="6.3"/><circle cx="1057.6" cy="1929.9" r="6.3"/><circle cx="1018.8" cy="1955.4" r="6.3"/><circle cx="1048.1" cy="1954.0" r="6.3"/><circle cx="1040.7" cy="1962.2" r="6.3"/><circle cx="1046.7" cy="1963.0" r="6.3"/><circle cx="1074.0" cy="1962.2" r="6.3"/><circle cx="1068.6" cy="1972.3" r="6.3"/><circle cx="1053.5" cy="1985.4" r="6.3"/><circle cx="1059.8" cy="1984.6" r="6.3"/><circle cx="1062.6" cy="2001.3" r="6.3"/><circle cx="1072.7" cy="1999.1" r="6.3"/><circle cx="1079.5" cy="1993.6" r="6.3"/><circle cx="919.0" cy="1981.3" r="6.3"/><circle cx="927.8" cy="2012.8" r="6.3"/><circle cx="926.4" cy="2016.0" r="6.3"/><circle cx="931.9" cy="2021.0" r="6.3"/><circle cx="1005.7" cy="1999.1" r="6.3"/><circle cx="1003.8" cy="2019.1" r="6.3"/><circle cx="1022.1" cy="2015.5" r="6.3"/><circle cx="1014.7" cy="2036.0" r="6.3"/><circle cx="924.2" cy="2050.5" r="6.3"/><circle cx="935.2" cy="2059.8" r="6.3"/><circle cx="948.3" cy="2072.4" r="6.3"/><circle cx="957.8" cy="2079.7" r="6.3"/><circle cx="966.6" cy="2059.8" r="6.3"/><circle cx="974.8" cy="2054.6" r="6.3"/><circle cx="968.8" cy="2072.4" r="6.3"/><circle cx="1001.6" cy="2061.4" r="6.3"/><circle cx="1009.8" cy="2056.5" r="6.3"/><circle cx="1011.2" cy="2067.4" r="6.3"/><circle cx="1033.0" cy="2048.3" r="6.3"/><circle cx="1050.0" cy="2051.0" r="6.3"/><circle cx="1056.3" cy="2052.4" r="6.3"/><circle cx="1060.4" cy="2063.9" r="6.3"/><circle cx="1067.2" cy="2042.8" r="6.3"/><circle cx="1071.3" cy="2048.3" r="6.3"/><circle cx="1076.8" cy="2046.4" r="6.3"/><circle cx="1051.6" cy="2080.6" r="6.3"/><circle cx="933.8" cy="2085.8" r="6.3"/><circle cx="920.9" cy="2094.2" r="6.3"/><circle cx="916.8" cy="2109.3" r="6.3"/><circle cx="940.1" cy="2097.5" r="6.3"/><circle cx="946.4" cy="2108.5" r="6.3"/><circle cx="937.3" cy="2114.5" r="6.3"/><circle cx="1026.2" cy="2095.3" r="6.3"/><circle cx="998.0" cy="2105.7" r="6.3"/><circle cx="991.2" cy="2112.6" r="6.3"/><circle cx="1016.6" cy="2118.6" r="6.3"/><circle cx="1036.6" cy="2124.0" r="6.3"/><circle cx="1076.8" cy="2107.6" r="6.3"/><circle cx="1078.1" cy="2133.9" r="6.3"/><circle cx="972.3" cy="2129.0" r="6.3"/><circle cx="982.4" cy="2131.7" r="6.3"/><circle cx="977.8" cy="2141.3" r="6.3"/><circle cx="996.7" cy="2134.4" r="6.3"/><circle cx="1028.1" cy="2139.1" r="6.3"/><circle cx="945.0" cy="2138.5" r="6.3"/><circle cx="955.9" cy="2135.8" r="6.3"/><circle cx="951.6" cy="2148.1" r="6.3"/><circle cx="961.9" cy="2146.2" r="6.3"/><circle cx="965.5" cy="2156.3" r="6.3"/><circle cx="959.2" cy="2163.1" r="6.3"/><circle cx="987.9" cy="2152.2" r="6.3"/><circle cx="1000.2" cy="2154.4" r="6.3"/><circle cx="992.0" cy="2160.4" r="6.3"/><circle cx="980.5" cy="2167.2" r="6.3"/><circle cx="986.0" cy="2171.3" r="6.3"/><circle cx="1035.2" cy="2167.2" r="6.3"/><circle cx="929.7" cy="2168.6" r="6.3"/><circle cx="942.8" cy="2166.4" r="6.3"/><circle cx="992.8" cy="2180.9" r="6.3"/><circle cx="983.3" cy="2190.5" r="6.3"/><circle cx="922.3" cy="2206.3" r="6.3"/><circle cx="963.3" cy="2210.2" r="6.3"/><circle cx="1029.7" cy="2218.4" r="6.3"/><circle cx="1013.1" cy="2229.6" r="6.3"/><circle cx="1031.7" cy="2263.7" r="6.3"/><circle cx="953.7" cy="2284.0" r="6.3"/><circle cx="970.7" cy="2300.4" r="6.3"/><circle cx="1020.2" cy="2355.0" r="6.3"/><circle cx="1100.0" cy="1934.0" r="6.3"/><circle cx="1136.9" cy="1935.4" r="6.3"/><circle cx="1095.9" cy="1952.1" r="6.3"/><circle cx="1106.0" cy="1956.2" r="6.3"/><circle cx="1109.5" cy="1961.4" r="6.3"/><circle cx="1103.8" cy="1986.0" r="6.3"/><circle cx="1127.3" cy="1992.3" r="6.3"/><circle cx="1129.2" cy="1996.4" r="6.3"/><circle cx="1123.7" cy="2004.6" r="6.3"/><circle cx="1236.4" cy="1975.9" r="6.3"/><circle cx="1204.9" cy="2001.8" r="6.3"/><circle cx="1084.9" cy="2020.1" r="6.3"/><circle cx="1093.7" cy="2025.1" r="6.3"/><circle cx="1101.9" cy="2021.8" r="6.3"/><circle cx="1086.8" cy="2035.2" r="6.3"/><circle cx="1090.9" cy="2047.5" r="6.3"/><circle cx="1088.2" cy="2064.2" r="6.3"/><circle cx="1186.1" cy="2030.5" r="6.3"/><circle cx="1184.7" cy="2037.4" r="6.3"/><circle cx="1142.3" cy="2043.4" r="6.3"/><circle cx="1166.7" cy="2042.8" r="6.3"/><circle cx="1238.6" cy="2049.1" r="6.3"/><circle cx="1249.5" cy="2059.2" r="6.3"/><circle cx="1181.2" cy="2051.0" r="6.3"/><circle cx="1182.5" cy="2055.1" r="6.3"/><circle cx="1194.3" cy="2053.8" r="6.3"/><circle cx="1202.5" cy="2053.8" r="6.3"/><circle cx="1209.3" cy="2051.0" r="6.3"/><circle cx="1214.0" cy="2056.0" r="6.3"/><circle cx="1218.9" cy="2051.6" r="6.3"/><circle cx="1115.5" cy="2057.9" r="6.3"/><circle cx="1122.4" cy="2059.2" r="6.3"/><circle cx="1131.4" cy="2059.2" r="6.3"/><circle cx="1144.2" cy="2061.2" r="6.3"/><circle cx="1159.3" cy="2058.7" r="6.3"/><circle cx="1162.0" cy="2064.7" r="6.3"/><circle cx="1168.9" cy="2064.2" r="6.3"/><circle cx="1164.8" cy="2074.3" r="6.3"/><circle cx="1114.2" cy="2075.1" r="6.3"/><circle cx="1140.1" cy="2073.5" r="6.3"/><circle cx="1190.2" cy="2073.5" r="6.3"/><circle cx="1199.5" cy="2081.9" r="6.3"/><circle cx="1191.5" cy="2087.9" r="6.3"/><circle cx="1210.7" cy="2087.9" r="6.3"/><circle cx="1212.6" cy="2096.7" r="6.3"/><circle cx="1136.0" cy="2082.5" r="6.3"/><circle cx="1138.8" cy="2087.1" r="6.3"/><circle cx="1132.8" cy="2091.5" r="6.3"/><circle cx="1157.1" cy="2085.8" r="6.3"/><circle cx="1110.6" cy="2096.1" r="6.3"/><circle cx="1120.5" cy="2100.8" r="6.3"/><circle cx="1175.7" cy="2092.9" r="6.3"/><circle cx="1169.7" cy="2100.3" r="6.3"/><circle cx="1244.9" cy="2097.5" r="6.3"/><circle cx="1147.0" cy="2107.1" r="6.3"/><circle cx="1152.4" cy="2109.0" r="6.3"/><circle cx="1162.0" cy="2113.4" r="6.3"/><circle cx="1155.2" cy="2120.2" r="6.3"/><circle cx="1173.0" cy="2115.3" r="6.3"/><circle cx="1177.9" cy="2109.0" r="6.3"/><circle cx="1173.5" cy="2129.0" r="6.3"/><circle cx="1196.2" cy="2113.9" r="6.3"/><circle cx="1215.9" cy="2122.7" r="6.3"/><circle cx="1241.3" cy="2113.9" r="6.3"/><circle cx="1244.0" cy="2120.2" r="6.3"/><circle cx="1107.3" cy="2116.1" r="6.3"/><circle cx="1092.3" cy="2126.2" r="6.3"/><circle cx="1098.6" cy="2124.9" r="6.3"/><circle cx="1198.1" cy="2144.0" r="6.3"/><circle cx="1203.6" cy="2157.7" r="6.3"/><circle cx="1222.7" cy="2138.5" r="6.3"/><circle cx="1219.4" cy="2144.8" r="6.3"/><circle cx="1235.0" cy="2138.0" r="6.3"/><circle cx="1249.0" cy="2146.7" r="6.3"/><circle cx="1112.8" cy="2149.5" r="6.3"/><circle cx="1118.3" cy="2163.1" r="6.3"/><circle cx="1153.3" cy="2155.5" r="6.3"/><circle cx="1179.2" cy="2169.1" r="6.3"/><circle cx="1240.5" cy="2170.0" r="6.3"/><circle cx="1145.6" cy="2188.3" r="6.3"/><circle cx="1149.7" cy="2201.4" r="6.3"/><circle cx="1188.5" cy="2199.2" r="6.3"/><circle cx="1207.1" cy="2186.4" r="6.3"/><circle cx="1227.6" cy="2186.4" r="6.3"/><circle cx="1230.9" cy="2190.5" r="6.3"/><circle cx="1229.0" cy="2211.8" r="6.3"/><circle cx="1233.1" cy="2219.2" r="6.3"/><circle cx="1247.3" cy="2217.3" r="6.3"/><circle cx="1225.4" cy="2252.5" r="6.3"/><circle cx="1221.6" cy="2261.0" r="6.3"/><circle cx="1369.5" cy="1985.4" r="6.3"/><circle cx="1412.1" cy="2005.4" r="6.3"/><circle cx="1356.6" cy="2011.4" r="6.3"/><circle cx="1360.2" cy="2032.5" r="6.3"/><circle cx="1364.0" cy="2043.4" r="6.3"/><circle cx="1362.1" cy="2056.0" r="6.3"/><circle cx="1406.4" cy="2044.2" r="6.3"/><circle cx="1415.4" cy="2068.8" r="6.3"/><circle cx="1293.7" cy="2043.7" r="6.3"/><circle cx="1322.4" cy="2032.7" r="6.3"/><circle cx="1325.2" cy="2042.3" r="6.3"/><circle cx="1256.8" cy="2052.4" r="6.3"/><circle cx="1264.2" cy="2075.1" r="6.3"/><circle cx="1277.3" cy="2085.2" r="6.3"/><circle cx="1266.4" cy="2092.0" r="6.3"/><circle cx="1271.3" cy="2089.3" r="6.3"/><circle cx="1301.1" cy="2099.7" r="6.3"/><circle cx="1297.8" cy="2113.4" r="6.3"/><circle cx="1347.1" cy="2059.2" r="6.3"/><circle cx="1341.6" cy="2064.7" r="6.3"/><circle cx="1336.1" cy="2080.6" r="6.3"/><circle cx="1329.3" cy="2086.6" r="6.3"/><circle cx="1338.3" cy="2087.9" r="6.3"/><circle cx="1353.9" cy="2083.8" r="6.3"/><circle cx="1358.8" cy="2092.0" r="6.3"/><circle cx="1349.0" cy="2094.0" r="6.3"/><circle cx="1353.1" cy="2105.7" r="6.3"/><circle cx="1377.1" cy="2081.7" r="6.3"/><circle cx="1381.8" cy="2085.8" r="6.3"/><circle cx="1393.5" cy="2081.1" r="6.3"/><circle cx="1403.1" cy="2079.7" r="6.3"/><circle cx="1398.4" cy="2091.5" r="6.3"/><circle cx="1410.5" cy="2092.9" r="6.3"/><circle cx="1271.9" cy="2118.0" r="6.3"/><circle cx="1327.4" cy="2119.4" r="6.3"/><circle cx="1345.7" cy="2118.0" r="6.3"/><circle cx="1351.2" cy="2124.9" r="6.3"/><circle cx="1365.6" cy="2111.7" r="6.3"/><circle cx="1384.0" cy="2111.7" r="6.3"/><circle cx="1404.5" cy="2116.7" r="6.3"/><circle cx="1419.0" cy="2130.3" r="6.3"/><circle cx="1306.9" cy="2127.0" r="6.3"/><circle cx="1312.9" cy="2131.7" r="6.3"/><circle cx="1273.2" cy="2131.7" r="6.3"/><circle cx="1277.3" cy="2136.6" r="6.3"/><circle cx="1282.8" cy="2141.3" r="6.3"/><circle cx="1280.6" cy="2151.6" r="6.3"/><circle cx="1285.5" cy="2150.8" r="6.3"/><circle cx="1303.3" cy="2144.0" r="6.3"/><circle cx="1262.3" cy="2146.2" r="6.3"/><circle cx="1259.6" cy="2159.0" r="6.3"/><circle cx="1329.3" cy="2145.9" r="6.3"/><circle cx="1334.8" cy="2150.0" r="6.3"/><circle cx="1344.3" cy="2149.5" r="6.3"/><circle cx="1367.6" cy="2143.2" r="6.3"/><circle cx="1400.4" cy="2139.1" r="6.3"/><circle cx="1408.0" cy="2149.5" r="6.3"/><circle cx="1419.5" cy="2148.1" r="6.3"/><circle cx="1304.7" cy="2162.3" r="6.3"/><circle cx="1340.2" cy="2165.0" r="6.3"/><circle cx="1395.4" cy="2170.8" r="6.3"/><circle cx="1414.0" cy="2170.0" r="6.3"/><circle cx="1418.1" cy="2163.1" r="6.3"/><circle cx="1267.8" cy="2178.2" r="6.3"/><circle cx="1291.8" cy="2178.7" r="6.3"/><circle cx="1289.6" cy="2187.7" r="6.3"/><circle cx="1295.1" cy="2200.9" r="6.3"/><circle cx="1300.6" cy="2202.2" r="6.3"/><circle cx="1308.2" cy="2195.9" r="6.3"/><circle cx="1315.1" cy="2198.7" r="6.3"/><circle cx="1320.5" cy="2201.4" r="6.3"/><circle cx="1374.9" cy="2182.8" r="6.3"/><circle cx="1370.3" cy="2199.5" r="6.3"/><circle cx="1378.5" cy="2195.4" r="6.3"/><circle cx="1390.0" cy="2191.0" r="6.3"/><circle cx="1391.6" cy="2206.3" r="6.3"/><circle cx="1415.9" cy="2191.3" r="6.3"/><circle cx="1315.6" cy="2221.1" r="6.3"/><circle cx="1317.8" cy="2232.0" r="6.3"/><circle cx="1388.1" cy="2224.6" r="6.3"/><circle cx="1419.0" cy="2226.0" r="6.3"/><circle cx="1279.3" cy="2243.8" r="6.3"/><circle cx="1286.4" cy="2271.9" r="6.3"/><circle cx="1386.1" cy="2269.8" r="6.3"/><circle cx="1382.6" cy="2288.3" r="6.3"/><circle cx="1373.0" cy="2327.2" r="6.3"/><circle cx="1288.3" cy="2355.9" r="6.3"/><circle cx="1456.4" cy="1985.4" r="6.3"/><circle cx="1460.2" cy="2005.9" r="6.3"/><circle cx="1493.3" cy="2005.1" r="6.3"/><circle cx="1506.1" cy="2001.8" r="6.3"/><circle cx="1454.2" cy="2040.1" r="6.3"/><circle cx="1513.8" cy="2038.2" r="6.3"/><circle cx="1517.1" cy="2048.9" r="6.3"/><circle cx="1523.1" cy="2055.7" r="6.3"/><circle cx="1511.6" cy="2065.3" r="6.3"/><circle cx="1555.9" cy="2068.0" r="6.3"/><circle cx="1590.0" cy="2017.7" r="6.3"/><circle cx="1588.1" cy="2038.2" r="6.3"/><circle cx="1585.4" cy="2058.4" r="6.3"/><circle cx="1497.1" cy="2076.5" r="6.3"/><circle cx="1498.7" cy="2087.9" r="6.3"/><circle cx="1450.6" cy="2090.1" r="6.3"/><circle cx="1465.1" cy="2085.2" r="6.3"/><circle cx="1476.9" cy="2083.8" r="6.3"/><circle cx="1469.2" cy="2098.9" r="6.3"/><circle cx="1458.3" cy="2106.5" r="6.3"/><circle cx="1524.4" cy="2094.2" r="6.3"/><circle cx="1543.0" cy="2091.5" r="6.3"/><circle cx="1554.0" cy="2093.4" r="6.3"/><circle cx="1569.0" cy="2094.8" r="6.3"/><circle cx="1586.8" cy="2086.6" r="6.3"/><circle cx="1586.8" cy="2094.8" r="6.3"/><circle cx="1581.3" cy="2104.4" r="6.3"/><circle cx="1576.4" cy="2111.7" r="6.3"/><circle cx="1567.1" cy="2124.3" r="6.3"/><circle cx="1428.7" cy="2112.6" r="6.3"/><circle cx="1500.6" cy="2117.5" r="6.3"/><circle cx="1510.2" cy="2116.1" r="6.3"/><circle cx="1448.7" cy="2131.1" r="6.3"/><circle cx="1471.1" cy="2139.1" r="6.3"/><circle cx="1528.0" cy="2135.8" r="6.3"/><circle cx="1523.3" cy="2139.9" r="6.3"/><circle cx="1519.8" cy="2144.0" r="6.3"/><circle cx="1519.0" cy="2155.5" r="6.3"/><circle cx="1502.0" cy="2157.7" r="6.3"/><circle cx="1508.0" cy="2157.1" r="6.3"/><circle cx="1504.2" cy="2169.1" r="6.3"/><circle cx="1579.9" cy="2150.3" r="6.3"/><circle cx="1589.5" cy="2149.5" r="6.3"/><circle cx="1461.6" cy="2168.6" r="6.3"/><circle cx="1474.7" cy="2174.6" r="6.3"/><circle cx="1432.3" cy="2174.1" r="6.3"/><circle cx="1441.3" cy="2184.2" r="6.3"/><circle cx="1452.3" cy="2185.0" r="6.3"/><circle cx="1467.0" cy="2188.6" r="6.3"/><circle cx="1529.9" cy="2186.4" r="6.3"/><circle cx="1564.1" cy="2180.9" r="6.3"/><circle cx="1572.6" cy="2178.2" r="6.3"/><circle cx="1562.2" cy="2185.8" r="6.3"/><circle cx="1547.9" cy="2197.8" r="6.3"/><circle cx="1553.1" cy="2197.8" r="6.3"/><circle cx="1570.4" cy="2202.8" r="6.3"/><circle cx="1584.0" cy="2208.8" r="6.3"/><circle cx="1426.8" cy="2200.9" r="6.3"/><circle cx="1430.9" cy="2199.2" r="6.3"/><circle cx="1436.4" cy="2210.4" r="6.3"/><circle cx="1446.0" cy="2217.8" r="6.3"/><circle cx="1463.7" cy="2210.4" r="6.3"/><circle cx="1473.3" cy="2219.2" r="6.3"/><circle cx="1478.2" cy="2213.7" r="6.3"/><circle cx="1481.5" cy="2218.4" r="6.3"/><circle cx="1495.2" cy="2208.2" r="6.3"/><circle cx="1535.6" cy="2218.6" r="6.3"/><circle cx="1537.6" cy="2226.8" r="6.3"/><circle cx="1532.1" cy="2234.2" r="6.3"/><circle cx="1515.1" cy="2232.8" r="6.3"/><circle cx="1578.0" cy="2229.6" r="6.3"/><circle cx="1424.1" cy="2226.0" r="6.3"/><circle cx="1433.7" cy="2232.3" r="6.3"/><circle cx="1439.7" cy="2234.2" r="6.3"/><circle cx="1485.6" cy="2240.2" r="6.3"/><circle cx="1487.8" cy="2244.3" r="6.3"/><circle cx="1444.1" cy="2249.2" r="6.3"/><circle cx="1437.8" cy="2255.5" r="6.3"/><circle cx="1539.5" cy="2250.1" r="6.3"/><circle cx="1491.6" cy="2266.2" r="6.3"/><circle cx="1574.5" cy="2279.3" r="6.3"/><circle cx="1534.0" cy="2293.5" r="6.3"/><circle cx="1546.6" cy="2302.6" r="6.3"/><circle cx="1541.1" cy="2309.4" r="6.3"/><circle cx="1561.6" cy="2308.0" r="6.3"/><circle cx="1544.9" cy="2320.9" r="6.3"/><circle cx="1550.4" cy="2337.3" r="6.3"/><circle cx="1560.0" cy="2336.7" r="6.3"/><circle cx="1484.2" cy="2336.7" r="6.3"/><circle cx="1558.1" cy="2366.8" r="6.3"/><circle cx="1482.3" cy="2384.0" r="6.3"/><circle cx="1489.7" cy="2426.4" r="6.3"/><circle cx="1596.8" cy="1964.1" r="6.3"/><circle cx="1598.2" cy="1980.0" r="6.3"/><circle cx="1604.2" cy="2002.4" r="6.3"/><circle cx="1629.6" cy="2016.9" r="6.3"/><circle cx="1635.1" cy="2024.2" r="6.3"/><circle cx="1627.7" cy="2039.3" r="6.3"/><circle cx="1713.0" cy="1984.1" r="6.3"/><circle cx="1720.7" cy="1986.0" r="6.3"/><circle cx="1728.1" cy="1978.0" r="6.3"/><circle cx="1733.5" cy="2010.0" r="6.3"/><circle cx="1714.9" cy="2016.3" r="6.3"/><circle cx="1722.6" cy="2026.4" r="6.3"/><circle cx="1744.5" cy="2035.2" r="6.3"/><circle cx="1749.9" cy="2051.0" r="6.3"/><circle cx="1753.5" cy="2051.0" r="6.3"/><circle cx="1753.5" cy="2073.7" r="6.3"/><circle cx="1662.4" cy="2064.7" r="6.3"/><circle cx="1661.1" cy="2068.0" r="6.3"/><circle cx="1689.0" cy="2058.7" r="6.3"/><circle cx="1683.0" cy="2068.0" r="6.3"/><circle cx="1715.8" cy="2064.7" r="6.3"/><circle cx="1724.0" cy="2069.6" r="6.3"/><circle cx="1600.9" cy="2083.8" r="6.3"/><circle cx="1606.4" cy="2085.8" r="6.3"/><circle cx="1624.2" cy="2081.7" r="6.3"/><circle cx="1633.7" cy="2073.7" r="6.3"/><circle cx="1646.6" cy="2072.9" r="6.3"/><circle cx="1640.6" cy="2086.6" r="6.3"/><circle cx="1637.0" cy="2091.5" r="6.3"/><circle cx="1610.5" cy="2097.0" r="6.3"/><circle cx="1609.1" cy="2103.0" r="6.3"/><circle cx="1620.6" cy="2102.4" r="6.3"/><circle cx="1631.6" cy="2101.6" r="6.3"/><circle cx="1664.6" cy="2097.0" r="6.3"/><circle cx="1687.1" cy="2099.7" r="6.3"/><circle cx="1677.5" cy="2105.7" r="6.3"/><circle cx="1725.9" cy="2092.0" r="6.3"/><circle cx="1729.4" cy="2100.8" r="6.3"/><circle cx="1709.5" cy="2103.8" r="6.3"/><circle cx="1705.4" cy="2114.5" r="6.3"/><circle cx="1674.2" cy="2122.7" r="6.3"/><circle cx="1615.2" cy="2126.8" r="6.3"/><circle cx="1639.2" cy="2129.5" r="6.3"/><circle cx="1740.4" cy="2124.3" r="6.3"/><circle cx="1739.0" cy="2131.1" r="6.3"/><circle cx="1758.1" cy="2138.5" r="6.3"/><circle cx="1657.5" cy="2143.4" r="6.3"/><circle cx="1672.6" cy="2147.5" r="6.3"/><circle cx="1685.1" cy="2150.0" r="6.3"/><circle cx="1668.5" cy="2157.7" r="6.3"/><circle cx="1670.6" cy="2161.8" r="6.3"/><circle cx="1681.6" cy="2165.9" r="6.3"/><circle cx="1696.1" cy="2157.7" r="6.3"/><circle cx="1698.0" cy="2164.5" r="6.3"/><circle cx="1700.7" cy="2170.0" r="6.3"/><circle cx="1690.6" cy="2178.2" r="6.3"/><circle cx="1701.5" cy="2180.1" r="6.3"/><circle cx="1710.8" cy="2176.3" r="6.3"/><circle cx="1718.5" cy="2174.1" r="6.3"/><circle cx="1731.6" cy="2158.2" r="6.3"/><circle cx="1734.9" cy="2176.8" r="6.3"/><circle cx="1626.1" cy="2159.0" r="6.3"/><circle cx="1613.2" cy="2167.2" r="6.3"/><circle cx="1618.7" cy="2173.5" r="6.3"/><circle cx="1622.3" cy="2185.0" r="6.3"/><circle cx="1607.8" cy="2195.1" r="6.3"/><circle cx="1650.1" cy="2173.5" r="6.3"/><circle cx="1652.1" cy="2189.1" r="6.3"/><circle cx="1675.6" cy="2191.8" r="6.3"/><circle cx="1748.0" cy="2199.5" r="6.3"/><circle cx="1644.7" cy="2206.3" r="6.3"/><circle cx="1654.2" cy="2207.4" r="6.3"/><circle cx="1737.1" cy="2221.9" r="6.3"/><circle cx="1666.5" cy="2224.1" r="6.3"/><circle cx="1659.7" cy="2227.4" r="6.3"/><circle cx="1642.8" cy="2232.8" r="6.3"/><circle cx="1648.8" cy="2237.5" r="6.3"/><circle cx="1655.6" cy="2237.5" r="6.3"/><circle cx="1707.0" cy="2237.5" r="6.3"/><circle cx="1755.4" cy="2237.8" r="6.3"/><circle cx="1746.4" cy="2255.3" r="6.3"/><circle cx="1760.0" cy="2259.4" r="6.3"/><circle cx="1679.7" cy="2253.9" r="6.3"/><circle cx="1704.0" cy="2261.0" r="6.3"/><circle cx="1742.6" cy="2289.7" r="6.3"/><circle cx="1693.1" cy="2295.2" r="6.3"/><circle cx="1698.5" cy="2310.8" r="6.3"/><circle cx="1616.8" cy="2310.8" r="6.3"/><circle cx="1758.1" cy="2325.0" r="6.3"/><circle cx="1759.5" cy="2350.4" r="6.3"/><circle cx="1820.1" cy="1858.3" r="6.3"/><circle cx="1816.6" cy="1921.2" r="6.3"/><circle cx="1825.6" cy="1949.3" r="6.3"/><circle cx="1800.2" cy="1961.6" r="6.3"/><circle cx="1831.1" cy="1967.1" r="6.3"/><circle cx="1785.2" cy="2003.2" r="6.3"/><circle cx="1796.4" cy="2002.4" r="6.3"/><circle cx="1805.1" cy="2026.4" r="6.3"/><circle cx="1809.8" cy="2026.4" r="6.3"/><circle cx="1801.6" cy="2042.3" r="6.3"/><circle cx="1786.8" cy="2051.6" r="6.3"/><circle cx="1814.7" cy="2053.0" r="6.3"/><circle cx="1827.8" cy="2056.0" r="6.3"/><circle cx="1794.2" cy="2069.4" r="6.3"/><circle cx="1792.3" cy="2083.8" r="6.3"/><circle cx="1811.1" cy="2086.0" r="6.3"/><circle cx="1829.7" cy="2081.1" r="6.3"/><circle cx="1824.8" cy="2089.3" r="6.3"/><circle cx="1822.3" cy="2098.9" r="6.3"/><circle cx="1807.3" cy="2098.1" r="6.3"/><circle cx="1803.2" cy="2106.3" r="6.3"/><circle cx="1833.3" cy="2104.4" r="6.3"/><circle cx="1766.8" cy="2085.2" r="6.3"/><circle cx="1772.3" cy="2084.4" r="6.3"/><circle cx="1775.9" cy="2096.1" r="6.3"/><circle cx="1783.2" cy="2105.2" r="6.3"/><circle cx="1798.3" cy="2124.3" r="6.3"/><circle cx="1779.1" cy="2141.8" r="6.3"/><circle cx="1781.9" cy="2148.1" r="6.3"/><circle cx="1812.8" cy="2149.5" r="6.3"/><circle cx="1770.4" cy="2164.5" r="6.3"/><circle cx="1777.8" cy="2166.4" r="6.3"/><circle cx="1766.8" cy="2184.5" r="6.3"/><circle cx="1773.7" cy="2193.2" r="6.3"/><circle cx="1788.7" cy="2185.0" r="6.3"/><circle cx="1836.5" cy="2171.9" r="6.3"/><circle cx="1851.6" cy="2187.2" r="6.3"/><circle cx="1834.4" cy="2208.2" r="6.3"/><circle cx="1842.0" cy="2215.9" r="6.3"/><circle cx="1818.2" cy="2256.1" r="6.3"/><circle cx="1844.2" cy="2263.5" r="6.3"/><circle cx="1840.6" cy="2275.8" r="6.3"/><circle cx="1790.6" cy="2327.7" r="6.3"/><circle cx="1838.5" cy="2382.4" r="6.3"/><circle cx="1846.1" cy="2407.8" r="6.3"/><circle cx="1848.0" cy="2430.5" r="6.3"/><circle cx="1849.7" cy="2469.9" r="6.3"/></g>
<rect x="226.00" y="1846.00" width="1657.70" height="637.60" fill="none" stroke="#000" stroke-width="6.0"/>
<text transform="translate(1053.90 2608.80) scale(0.9489 1)" font-size="44.8" font-weight="normal" text-anchor="middle" xml:space="preserve">Time (hours since beginning of first day UTC)</text>
<rect x="226" y="2713" width="1657.7" height="153" fill="none" stroke="#000" stroke-width="6"/>
<text transform="translate(1054.80 2751.90) scale(0.9463 1)" font-size="45" font-weight="bold" text-anchor="middle" xml:space="preserve">Processed Using JPL Rapid Orbits</text>
<text transform="translate(1054.10 2792.00) scale(0.9509 1)" font-size="45" font-weight="bold" text-anchor="middle" xml:space="preserve">by the Nevada Geodetic Laboratory.</text>
<text transform="translate(1054.00 2832.10) scale(0.9488 1)" font-size="45" font-weight="bold" text-anchor="middle" xml:space="preserve">Plotted on 2026-Jan-11.</text>
</svg></body></html>
